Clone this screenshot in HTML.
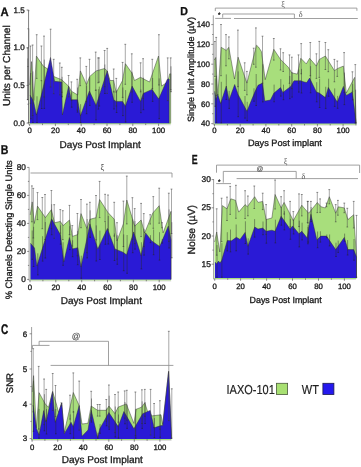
<!DOCTYPE html>
<html><head><meta charset="utf-8"><style>
html,body{margin:0;padding:0;background:#fff;width:361px;height:467px;overflow:hidden}
svg{display:block;will-change:transform}
text{font-family:"Liberation Sans",sans-serif;fill:#1a1a1a;text-rendering:geometricPrecision;stroke:#1a1a1a;stroke-width:0.32px}
.tk{font-size:7.8px}
.dp{font-size:10px}
.yl{font-size:9.3px}
.pl{font-size:11.5px;font-weight:bold;fill:#111;stroke:#111;stroke-width:0.3px}
.lg{font-size:11px;fill:#222;stroke-width:0.15px}
.gr{font-family:"Liberation Serif",serif;font-size:8.2px;fill:#555;stroke:none}
.at{font-size:6.6px;fill:#555;stroke:#555;stroke-width:0.15px}
.st{font-size:6.5px;fill:#222}
</style></head><body>
<svg width="361" height="467" viewBox="0 0 361 467">
<polygon points="29.7,124.3 29.7,85.0 31.5,61.6 33.8,100.6 36.4,56.1 43.3,66.1 48.1,69.3 53.7,76.5 61.7,79.7 68.5,86.1 71.2,91.0 77.7,95.0 80.4,70.9 86.5,84.5 89.7,76.5 96.1,70.9 104.5,68.5 107.2,70.9 110.0,80.5 113.7,80.5 116.1,92.6 122.5,80.5 125.4,63.7 132.1,73.3 134.5,80.5 140.5,77.3 149.5,82.0 158.5,56.0 161.6,86.0 167.7,82.0 169.7,73.8 170.7,73.8 170.7,124.3" fill="#a8de7c"/>
<polyline points="29.7,85.0 31.5,61.6 33.8,100.6 36.4,56.1 43.3,66.1 48.1,69.3 53.7,76.5 61.7,79.7 68.5,86.1 71.2,91.0 77.7,95.0 80.4,70.9 86.5,84.5 89.7,76.5 96.1,70.9 104.5,68.5 107.2,70.9 110.0,80.5 113.7,80.5 116.1,92.6 122.5,80.5 125.4,63.7 132.1,73.3 134.5,80.5 140.5,77.3 149.5,82.0 158.5,56.0 161.6,86.0 167.7,82.0 169.7,73.8 170.7,73.8 170.7,123.3" fill="none" stroke="#2a2a2a" stroke-width="0.45" stroke-linejoin="round"/>
<polygon points="30.0,123.2 30.0,95.0 33.6,101.4 36.4,115.0 50.5,57.5 54.5,81.3 61.7,82.1 62.4,115.0 68.6,86.2 71.2,99.8 77.7,99.8 80.4,115.9 89.4,91.0 96.1,105.4 107.2,70.9 113.7,99.8 116.1,101.4 122.5,101.4 125.4,106.2 132.1,86.1 140.5,101.4 143.2,93.4 152.1,89.4 158.7,99.0 167.3,79.3 169.2,79.0 169.2,123.2" fill="#2a1ad6"/>
<polyline points="30.0,95.0 33.6,101.4 36.4,115.0 50.5,57.5 54.5,81.3 61.7,82.1 62.4,115.0 68.6,86.2 71.2,99.8 77.7,99.8 80.4,115.9 89.4,91.0 96.1,105.4 107.2,70.9 113.7,99.8 116.1,101.4 122.5,101.4 125.4,106.2 132.1,86.1 140.5,101.4 143.2,93.4 152.1,89.4 158.7,99.0 167.3,79.3 169.2,79.0 169.2,123.3" fill="none" stroke="#2a2a2a" stroke-width="0.45" stroke-linejoin="round"/>
<line x1="28.5" y1="10.7" x2="28.5" y2="122.5" stroke="#484848" stroke-width="0.48"/>
<line x1="27.6" y1="10.7" x2="29.4" y2="10.7" stroke="#444" stroke-width="0.6"/>
<line x1="27.7" y1="122.5" x2="29.3" y2="122.5" stroke="#333" stroke-width="0.55"/>
<line x1="28.8" y1="28.5" x2="28.8" y2="122.5" stroke="#2a2a2a" stroke-width="0.45"/>
<line x1="28.0" y1="122.5" x2="29.6" y2="122.5" stroke="#222" stroke-width="0.55"/>
<line x1="27.6" y1="48.0" x2="27.6" y2="99.6" stroke="#484848" stroke-width="0.48"/>
<line x1="26.7" y1="48.0" x2="28.5" y2="48.0" stroke="#444" stroke-width="0.6"/>
<line x1="26.8" y1="99.6" x2="28.4" y2="99.6" stroke="#333" stroke-width="0.55"/>
<line x1="27.9" y1="58.4" x2="27.9" y2="99.6" stroke="#2a2a2a" stroke-width="0.45"/>
<line x1="27.1" y1="99.6" x2="28.7" y2="99.6" stroke="#222" stroke-width="0.55"/>
<line x1="30.5" y1="46.0" x2="30.5" y2="103.2" stroke="#484848" stroke-width="0.48"/>
<line x1="29.6" y1="46.0" x2="31.4" y2="46.0" stroke="#444" stroke-width="0.6"/>
<line x1="29.7" y1="103.2" x2="31.3" y2="103.2" stroke="#333" stroke-width="0.55"/>
<line x1="30.8" y1="73.0" x2="30.8" y2="118.8" stroke="#2a2a2a" stroke-width="0.45"/>
<line x1="30.0" y1="118.8" x2="31.6" y2="118.8" stroke="#222" stroke-width="0.55"/>
<line x1="32.6" y1="45.0" x2="32.6" y2="115.5" stroke="#484848" stroke-width="0.48"/>
<line x1="31.7" y1="45.0" x2="33.5" y2="45.0" stroke="#444" stroke-width="0.6"/>
<line x1="31.8" y1="115.5" x2="33.4" y2="115.5" stroke="#333" stroke-width="0.55"/>
<line x1="32.9" y1="71.4" x2="32.9" y2="122.5" stroke="#2a2a2a" stroke-width="0.45"/>
<line x1="32.1" y1="122.5" x2="33.7" y2="122.5" stroke="#222" stroke-width="0.55"/>
<line x1="36.7" y1="34.7" x2="36.7" y2="78.4" stroke="#484848" stroke-width="0.48"/>
<line x1="35.8" y1="34.7" x2="37.6" y2="34.7" stroke="#444" stroke-width="0.6"/>
<line x1="35.9" y1="78.4" x2="37.5" y2="78.4" stroke="#333" stroke-width="0.55"/>
<line x1="37.0" y1="96.3" x2="37.0" y2="122.5" stroke="#2a2a2a" stroke-width="0.45"/>
<line x1="36.2" y1="122.5" x2="37.8" y2="122.5" stroke="#222" stroke-width="0.55"/>
<line x1="41.4" y1="46.0" x2="41.4" y2="80.7" stroke="#484848" stroke-width="0.48"/>
<line x1="40.5" y1="46.0" x2="42.3" y2="46.0" stroke="#444" stroke-width="0.6"/>
<line x1="40.6" y1="80.7" x2="42.2" y2="80.7" stroke="#333" stroke-width="0.55"/>
<line x1="41.7" y1="80.7" x2="41.7" y2="108.5" stroke="#2a2a2a" stroke-width="0.45"/>
<line x1="40.9" y1="108.5" x2="42.5" y2="108.5" stroke="#222" stroke-width="0.55"/>
<line x1="44.0" y1="36.1" x2="44.0" y2="97.0" stroke="#484848" stroke-width="0.48"/>
<line x1="43.1" y1="36.1" x2="44.9" y2="36.1" stroke="#444" stroke-width="0.6"/>
<line x1="43.2" y1="97.0" x2="44.8" y2="97.0" stroke="#333" stroke-width="0.55"/>
<line x1="44.3" y1="59.6" x2="44.3" y2="108.4" stroke="#2a2a2a" stroke-width="0.45"/>
<line x1="43.5" y1="108.4" x2="45.1" y2="108.4" stroke="#222" stroke-width="0.55"/>
<line x1="50.6" y1="29.2" x2="50.6" y2="87.0" stroke="#484848" stroke-width="0.48"/>
<line x1="49.7" y1="29.2" x2="51.5" y2="29.2" stroke="#444" stroke-width="0.6"/>
<line x1="49.8" y1="87.0" x2="51.4" y2="87.0" stroke="#333" stroke-width="0.55"/>
<line x1="53.7" y1="59.3" x2="53.7" y2="93.7" stroke="#484848" stroke-width="0.48"/>
<line x1="52.8" y1="59.3" x2="54.6" y2="59.3" stroke="#444" stroke-width="0.6"/>
<line x1="52.9" y1="93.7" x2="54.5" y2="93.7" stroke="#333" stroke-width="0.55"/>
<line x1="59.8" y1="63.0" x2="59.8" y2="94.9" stroke="#484848" stroke-width="0.48"/>
<line x1="58.9" y1="63.0" x2="60.7" y2="63.0" stroke="#444" stroke-width="0.6"/>
<line x1="59.0" y1="94.9" x2="60.6" y2="94.9" stroke="#333" stroke-width="0.55"/>
<line x1="61.8" y1="67.3" x2="61.8" y2="92.3" stroke="#484848" stroke-width="0.48"/>
<line x1="60.9" y1="67.3" x2="62.7" y2="67.3" stroke="#444" stroke-width="0.6"/>
<line x1="61.0" y1="92.3" x2="62.6" y2="92.3" stroke="#333" stroke-width="0.55"/>
<line x1="62.1" y1="76.8" x2="62.1" y2="96.8" stroke="#2a2a2a" stroke-width="0.45"/>
<line x1="61.3" y1="96.8" x2="62.9" y2="96.8" stroke="#222" stroke-width="0.55"/>
<line x1="68.6" y1="75.5" x2="68.6" y2="96.9" stroke="#484848" stroke-width="0.48"/>
<line x1="67.7" y1="75.5" x2="69.5" y2="75.5" stroke="#444" stroke-width="0.6"/>
<line x1="67.8" y1="96.9" x2="69.4" y2="96.9" stroke="#333" stroke-width="0.55"/>
<line x1="71.4" y1="81.9" x2="71.4" y2="100.3" stroke="#484848" stroke-width="0.48"/>
<line x1="70.5" y1="81.9" x2="72.3" y2="81.9" stroke="#444" stroke-width="0.6"/>
<line x1="70.6" y1="100.3" x2="72.2" y2="100.3" stroke="#333" stroke-width="0.55"/>
<line x1="71.7" y1="92.4" x2="71.7" y2="107.2" stroke="#2a2a2a" stroke-width="0.45"/>
<line x1="70.9" y1="107.2" x2="72.5" y2="107.2" stroke="#222" stroke-width="0.55"/>
<line x1="77.2" y1="79.3" x2="77.2" y2="110.1" stroke="#484848" stroke-width="0.48"/>
<line x1="76.3" y1="79.3" x2="78.1" y2="79.3" stroke="#444" stroke-width="0.6"/>
<line x1="76.4" y1="110.1" x2="78.0" y2="110.1" stroke="#333" stroke-width="0.55"/>
<line x1="77.5" y1="87.5" x2="77.5" y2="112.1" stroke="#2a2a2a" stroke-width="0.45"/>
<line x1="76.7" y1="112.1" x2="78.3" y2="112.1" stroke="#222" stroke-width="0.55"/>
<line x1="86.3" y1="66.4" x2="86.3" y2="101.7" stroke="#484848" stroke-width="0.48"/>
<line x1="85.4" y1="66.4" x2="87.2" y2="66.4" stroke="#444" stroke-width="0.6"/>
<line x1="85.5" y1="101.7" x2="87.1" y2="101.7" stroke="#333" stroke-width="0.55"/>
<line x1="86.6" y1="85.5" x2="86.6" y2="113.7" stroke="#2a2a2a" stroke-width="0.45"/>
<line x1="85.8" y1="113.7" x2="87.4" y2="113.7" stroke="#222" stroke-width="0.55"/>
<line x1="80.3" y1="57.9" x2="80.3" y2="85.7" stroke="#484848" stroke-width="0.48"/>
<line x1="79.4" y1="57.9" x2="81.2" y2="57.9" stroke="#444" stroke-width="0.6"/>
<line x1="79.5" y1="85.7" x2="81.1" y2="85.7" stroke="#333" stroke-width="0.55"/>
<line x1="80.6" y1="104.2" x2="80.6" y2="122.5" stroke="#2a2a2a" stroke-width="0.45"/>
<line x1="79.8" y1="122.5" x2="81.4" y2="122.5" stroke="#222" stroke-width="0.55"/>
<line x1="89.5" y1="59.3" x2="89.5" y2="94.7" stroke="#484848" stroke-width="0.48"/>
<line x1="88.6" y1="59.3" x2="90.4" y2="59.3" stroke="#444" stroke-width="0.6"/>
<line x1="88.7" y1="94.7" x2="90.3" y2="94.7" stroke="#333" stroke-width="0.55"/>
<line x1="89.8" y1="77.1" x2="89.8" y2="105.4" stroke="#2a2a2a" stroke-width="0.45"/>
<line x1="89.0" y1="105.4" x2="90.6" y2="105.4" stroke="#222" stroke-width="0.55"/>
<line x1="95.7" y1="52.1" x2="95.7" y2="90.4" stroke="#484848" stroke-width="0.48"/>
<line x1="94.8" y1="52.1" x2="96.6" y2="52.1" stroke="#444" stroke-width="0.6"/>
<line x1="94.9" y1="90.4" x2="96.5" y2="90.4" stroke="#333" stroke-width="0.55"/>
<line x1="96.0" y1="89.2" x2="96.0" y2="119.9" stroke="#2a2a2a" stroke-width="0.45"/>
<line x1="95.2" y1="119.9" x2="96.8" y2="119.9" stroke="#222" stroke-width="0.55"/>
<line x1="98.1" y1="57.9" x2="98.1" y2="82.8" stroke="#484848" stroke-width="0.48"/>
<line x1="97.2" y1="57.9" x2="99.0" y2="57.9" stroke="#444" stroke-width="0.6"/>
<line x1="97.3" y1="82.8" x2="98.9" y2="82.8" stroke="#333" stroke-width="0.55"/>
<line x1="98.4" y1="89.2" x2="98.4" y2="109.1" stroke="#2a2a2a" stroke-width="0.45"/>
<line x1="97.6" y1="109.1" x2="99.2" y2="109.1" stroke="#222" stroke-width="0.55"/>
<line x1="99.0" y1="57.9" x2="99.0" y2="82.2" stroke="#484848" stroke-width="0.48"/>
<line x1="98.1" y1="57.9" x2="99.9" y2="57.9" stroke="#444" stroke-width="0.6"/>
<line x1="98.2" y1="82.2" x2="99.8" y2="82.2" stroke="#333" stroke-width="0.55"/>
<line x1="99.3" y1="86.6" x2="99.3" y2="106.1" stroke="#2a2a2a" stroke-width="0.45"/>
<line x1="98.5" y1="106.1" x2="100.1" y2="106.1" stroke="#222" stroke-width="0.55"/>
<line x1="104.6" y1="50.5" x2="104.6" y2="86.7" stroke="#484848" stroke-width="0.48"/>
<line x1="103.7" y1="50.5" x2="105.5" y2="50.5" stroke="#444" stroke-width="0.6"/>
<line x1="103.8" y1="86.7" x2="105.4" y2="86.7" stroke="#333" stroke-width="0.55"/>
<line x1="104.9" y1="64.5" x2="104.9" y2="93.5" stroke="#2a2a2a" stroke-width="0.45"/>
<line x1="104.1" y1="93.5" x2="105.7" y2="93.5" stroke="#222" stroke-width="0.55"/>
<line x1="107.2" y1="48.4" x2="107.2" y2="93.4" stroke="#484848" stroke-width="0.48"/>
<line x1="106.3" y1="48.4" x2="108.1" y2="48.4" stroke="#444" stroke-width="0.6"/>
<line x1="106.4" y1="93.4" x2="108.0" y2="93.4" stroke="#333" stroke-width="0.55"/>
<line x1="113.7" y1="69.0" x2="113.7" y2="92.0" stroke="#484848" stroke-width="0.48"/>
<line x1="112.8" y1="69.0" x2="114.6" y2="69.0" stroke="#444" stroke-width="0.6"/>
<line x1="112.9" y1="92.0" x2="114.5" y2="92.0" stroke="#333" stroke-width="0.55"/>
<line x1="114.0" y1="90.6" x2="114.0" y2="109.0" stroke="#2a2a2a" stroke-width="0.45"/>
<line x1="113.2" y1="109.0" x2="114.8" y2="109.0" stroke="#222" stroke-width="0.55"/>
<line x1="116.3" y1="78.4" x2="116.3" y2="106.0" stroke="#484848" stroke-width="0.48"/>
<line x1="115.4" y1="78.4" x2="117.2" y2="78.4" stroke="#444" stroke-width="0.6"/>
<line x1="115.5" y1="106.0" x2="117.1" y2="106.0" stroke="#333" stroke-width="0.55"/>
<line x1="116.6" y1="90.3" x2="116.6" y2="112.5" stroke="#2a2a2a" stroke-width="0.45"/>
<line x1="115.8" y1="112.5" x2="117.4" y2="112.5" stroke="#222" stroke-width="0.55"/>
<line x1="122.6" y1="62.4" x2="122.6" y2="97.4" stroke="#484848" stroke-width="0.48"/>
<line x1="121.7" y1="62.4" x2="123.5" y2="62.4" stroke="#444" stroke-width="0.6"/>
<line x1="121.8" y1="97.4" x2="123.4" y2="97.4" stroke="#333" stroke-width="0.55"/>
<line x1="122.9" y1="87.5" x2="122.9" y2="115.6" stroke="#2a2a2a" stroke-width="0.45"/>
<line x1="122.1" y1="115.6" x2="123.7" y2="115.6" stroke="#222" stroke-width="0.55"/>
<line x1="125.3" y1="44.3" x2="125.3" y2="84.3" stroke="#484848" stroke-width="0.48"/>
<line x1="124.4" y1="44.3" x2="126.2" y2="44.3" stroke="#444" stroke-width="0.6"/>
<line x1="124.5" y1="84.3" x2="126.1" y2="84.3" stroke="#333" stroke-width="0.55"/>
<line x1="125.6" y1="90.1" x2="125.6" y2="122.0" stroke="#2a2a2a" stroke-width="0.45"/>
<line x1="124.8" y1="122.0" x2="126.4" y2="122.0" stroke="#222" stroke-width="0.55"/>
<line x1="131.8" y1="53.8" x2="131.8" y2="91.9" stroke="#484848" stroke-width="0.48"/>
<line x1="130.9" y1="53.8" x2="132.7" y2="53.8" stroke="#444" stroke-width="0.6"/>
<line x1="131.0" y1="91.9" x2="132.6" y2="91.9" stroke="#333" stroke-width="0.55"/>
<line x1="132.1" y1="71.7" x2="132.1" y2="102.3" stroke="#2a2a2a" stroke-width="0.45"/>
<line x1="131.3" y1="102.3" x2="132.9" y2="102.3" stroke="#222" stroke-width="0.55"/>
<line x1="140.6" y1="62.8" x2="140.6" y2="91.9" stroke="#484848" stroke-width="0.48"/>
<line x1="139.7" y1="62.8" x2="141.5" y2="62.8" stroke="#444" stroke-width="0.6"/>
<line x1="139.8" y1="91.9" x2="141.4" y2="91.9" stroke="#333" stroke-width="0.55"/>
<line x1="140.9" y1="89.5" x2="140.9" y2="112.7" stroke="#2a2a2a" stroke-width="0.45"/>
<line x1="140.1" y1="112.7" x2="141.7" y2="112.7" stroke="#222" stroke-width="0.55"/>
<line x1="143.1" y1="58.7" x2="143.1" y2="98.6" stroke="#484848" stroke-width="0.48"/>
<line x1="142.2" y1="58.7" x2="144.0" y2="58.7" stroke="#444" stroke-width="0.6"/>
<line x1="142.3" y1="98.6" x2="143.9" y2="98.6" stroke="#333" stroke-width="0.55"/>
<line x1="143.4" y1="77.7" x2="143.4" y2="109.7" stroke="#2a2a2a" stroke-width="0.45"/>
<line x1="142.6" y1="109.7" x2="144.2" y2="109.7" stroke="#222" stroke-width="0.55"/>
<line x1="152.3" y1="59.3" x2="152.3" y2="88.5" stroke="#484848" stroke-width="0.48"/>
<line x1="151.4" y1="59.3" x2="153.2" y2="59.3" stroke="#444" stroke-width="0.6"/>
<line x1="151.5" y1="88.5" x2="153.1" y2="88.5" stroke="#333" stroke-width="0.55"/>
<line x1="152.6" y1="78.0" x2="152.6" y2="101.4" stroke="#2a2a2a" stroke-width="0.45"/>
<line x1="151.8" y1="101.4" x2="153.4" y2="101.4" stroke="#222" stroke-width="0.55"/>
<line x1="158.9" y1="34.7" x2="158.9" y2="85.0" stroke="#484848" stroke-width="0.48"/>
<line x1="158.0" y1="34.7" x2="159.8" y2="34.7" stroke="#444" stroke-width="0.6"/>
<line x1="158.1" y1="85.0" x2="159.7" y2="85.0" stroke="#333" stroke-width="0.55"/>
<line x1="159.2" y1="78.4" x2="159.2" y2="118.7" stroke="#2a2a2a" stroke-width="0.45"/>
<line x1="158.4" y1="118.7" x2="160.0" y2="118.7" stroke="#222" stroke-width="0.55"/>
<line x1="167.7" y1="57.9" x2="167.7" y2="100.6" stroke="#484848" stroke-width="0.48"/>
<line x1="166.8" y1="57.9" x2="168.6" y2="57.9" stroke="#444" stroke-width="0.6"/>
<line x1="166.9" y1="100.6" x2="168.5" y2="100.6" stroke="#333" stroke-width="0.55"/>
<line x1="170.7" y1="57.9" x2="170.7" y2="89.7" stroke="#484848" stroke-width="0.48"/>
<line x1="169.8" y1="57.9" x2="171.6" y2="57.9" stroke="#444" stroke-width="0.6"/>
<line x1="169.9" y1="89.7" x2="171.5" y2="89.7" stroke="#333" stroke-width="0.55"/>
<line x1="171.0" y1="66.3" x2="171.0" y2="91.7" stroke="#2a2a2a" stroke-width="0.45"/>
<line x1="170.2" y1="91.7" x2="171.8" y2="91.7" stroke="#222" stroke-width="0.55"/>
<line x1="28.6" y1="9.9" x2="28.6" y2="124.5" stroke="#777" stroke-width="0.7"/>
<line x1="28.6" y1="124.8" x2="170.8" y2="124.8" stroke="#bbb" stroke-width="0.5"/>
<line x1="29.6" y1="123.6" x2="29.6" y2="126.1" stroke="#444" stroke-width="0.6"/>
<text x="29.6" y="132.9" class="tk" text-anchor="middle">0</text>
<line x1="42.5" y1="123.6" x2="42.5" y2="125.1" stroke="#444" stroke-width="0.6"/>
<line x1="55.4" y1="123.6" x2="55.4" y2="126.1" stroke="#444" stroke-width="0.6"/>
<text x="55.4" y="132.9" class="tk" text-anchor="middle">20</text>
<line x1="68.3" y1="123.6" x2="68.3" y2="125.1" stroke="#444" stroke-width="0.6"/>
<line x1="81.2" y1="123.6" x2="81.2" y2="126.1" stroke="#444" stroke-width="0.6"/>
<text x="81.2" y="132.9" class="tk" text-anchor="middle">40</text>
<line x1="94.1" y1="123.6" x2="94.1" y2="125.1" stroke="#444" stroke-width="0.6"/>
<line x1="107.0" y1="123.6" x2="107.0" y2="126.1" stroke="#444" stroke-width="0.6"/>
<text x="107.0" y="132.9" class="tk" text-anchor="middle">60</text>
<line x1="119.9" y1="123.6" x2="119.9" y2="125.1" stroke="#444" stroke-width="0.6"/>
<line x1="132.8" y1="123.6" x2="132.8" y2="126.1" stroke="#444" stroke-width="0.6"/>
<text x="132.8" y="132.9" class="tk" text-anchor="middle">80</text>
<line x1="145.7" y1="123.6" x2="145.7" y2="125.1" stroke="#444" stroke-width="0.6"/>
<line x1="158.6" y1="123.6" x2="158.6" y2="126.1" stroke="#444" stroke-width="0.6"/>
<text x="158.6" y="132.9" class="tk" text-anchor="middle">100</text>
<line x1="28.6" y1="10.0" x2="26.6" y2="10.0" stroke="#444" stroke-width="0.6"/>
<text x="24.6" y="12.7" class="tk" style="font-size:8px" text-anchor="end">1.5</text>
<line x1="28.6" y1="47.7" x2="26.6" y2="47.7" stroke="#444" stroke-width="0.6"/>
<text x="24.6" y="50.4" class="tk" style="font-size:8px" text-anchor="end">1.0</text>
<line x1="28.6" y1="85.4" x2="26.6" y2="85.4" stroke="#444" stroke-width="0.6"/>
<text x="24.6" y="88.1" class="tk" style="font-size:8px" text-anchor="end">0.5</text>
<line x1="28.6" y1="123.1" x2="26.6" y2="123.1" stroke="#444" stroke-width="0.6"/>
<text x="24.6" y="125.8" class="tk" style="font-size:8px" text-anchor="end">0.0</text>
<line x1="28.6" y1="28.8" x2="27.4" y2="28.8" stroke="#444" stroke-width="0.6"/>
<line x1="28.6" y1="66.5" x2="27.4" y2="66.5" stroke="#444" stroke-width="0.6"/>
<line x1="28.6" y1="104.2" x2="27.4" y2="104.2" stroke="#444" stroke-width="0.6"/>
<polygon points="30.2,280.5 30.2,215.0 32.2,201.9 34.3,223.5 37.5,206.1 45.4,217.6 51.4,209.6 54.5,222.8 60.3,221.4 63.1,225.6 69.5,220.0 72.4,236.4 77.8,234.5 81.0,213.6 86.9,228.4 89.9,219.3 96.0,217.7 99.6,199.5 108.0,212.5 114.3,219.3 117.0,240.9 123.4,223.8 126.8,200.0 134.7,226.1 141.1,220.0 144.6,233.0 152.8,213.0 159.2,205.7 163.1,232.9 171.0,211.3 171.0,280.5" fill="#a8de7c"/>
<polyline points="30.2,215.0 32.2,201.9 34.3,223.5 37.5,206.1 45.4,217.6 51.4,209.6 54.5,222.8 60.3,221.4 63.1,225.6 69.5,220.0 72.4,236.4 77.8,234.5 81.0,213.6 86.9,228.4 89.9,219.3 96.0,217.7 99.6,199.5 108.0,212.5 114.3,219.3 117.0,240.9 123.4,223.8 126.8,200.0 134.7,226.1 141.1,220.0 144.6,233.0 152.8,213.0 159.2,205.7 163.1,232.9 171.0,211.3 171.0,279.5" fill="none" stroke="#2a2a2a" stroke-width="0.45" stroke-linejoin="round"/>
<polygon points="30.5,279.4 30.5,243.2 34.5,248.1 36.9,266.0 51.6,218.8 60.5,235.1 63.8,261.9 69.4,237.5 72.4,248.9 77.8,247.7 81.0,267.0 89.9,223.9 97.8,248.9 107.4,228.4 114.9,248.9 122.9,252.2 126.6,254.8 133.7,231.9 141.1,255.6 145.6,232.9 151.7,240.9 159.7,246.5 168.3,226.1 171.0,240.0 171.0,279.4" fill="#2a1ad6"/>
<polyline points="30.5,243.2 34.5,248.1 36.9,266.0 51.6,218.8 60.5,235.1 63.8,261.9 69.4,237.5 72.4,248.9 77.8,247.7 81.0,267.0 89.9,223.9 97.8,248.9 107.4,228.4 114.9,248.9 122.9,252.2 126.6,254.8 133.7,231.9 141.1,255.6 145.6,232.9 151.7,240.9 159.7,246.5 168.3,226.1 171.0,240.0 171.0,279.5" fill="none" stroke="#2a2a2a" stroke-width="0.45" stroke-linejoin="round"/>
<line x1="31.9" y1="185.9" x2="31.9" y2="221.8" stroke="#484848" stroke-width="0.48"/>
<line x1="31.0" y1="185.9" x2="32.8" y2="185.9" stroke="#444" stroke-width="0.6"/>
<line x1="31.1" y1="221.8" x2="32.7" y2="221.8" stroke="#333" stroke-width="0.55"/>
<line x1="32.2" y1="230.5" x2="32.2" y2="259.3" stroke="#2a2a2a" stroke-width="0.45"/>
<line x1="31.4" y1="259.3" x2="33.0" y2="259.3" stroke="#222" stroke-width="0.55"/>
<line x1="33.3" y1="188.4" x2="33.3" y2="238.0" stroke="#484848" stroke-width="0.48"/>
<line x1="32.4" y1="188.4" x2="34.2" y2="188.4" stroke="#444" stroke-width="0.6"/>
<line x1="32.5" y1="238.0" x2="34.1" y2="238.0" stroke="#333" stroke-width="0.55"/>
<line x1="33.6" y1="226.8" x2="33.6" y2="266.5" stroke="#2a2a2a" stroke-width="0.45"/>
<line x1="32.8" y1="266.5" x2="34.4" y2="266.5" stroke="#222" stroke-width="0.55"/>
<line x1="37.5" y1="192.6" x2="37.5" y2="219.6" stroke="#484848" stroke-width="0.48"/>
<line x1="36.6" y1="192.6" x2="38.4" y2="192.6" stroke="#444" stroke-width="0.6"/>
<line x1="36.7" y1="219.6" x2="38.3" y2="219.6" stroke="#333" stroke-width="0.55"/>
<line x1="37.8" y1="253.3" x2="37.8" y2="274.9" stroke="#2a2a2a" stroke-width="0.45"/>
<line x1="37.0" y1="274.9" x2="38.6" y2="274.9" stroke="#222" stroke-width="0.55"/>
<line x1="42.3" y1="197.5" x2="42.3" y2="228.7" stroke="#484848" stroke-width="0.48"/>
<line x1="41.4" y1="197.5" x2="43.2" y2="197.5" stroke="#444" stroke-width="0.6"/>
<line x1="41.5" y1="228.7" x2="43.1" y2="228.7" stroke="#333" stroke-width="0.55"/>
<line x1="42.6" y1="236.2" x2="42.6" y2="261.1" stroke="#2a2a2a" stroke-width="0.45"/>
<line x1="41.8" y1="261.1" x2="43.4" y2="261.1" stroke="#222" stroke-width="0.55"/>
<line x1="45.0" y1="194.5" x2="45.0" y2="239.5" stroke="#484848" stroke-width="0.48"/>
<line x1="44.1" y1="194.5" x2="45.9" y2="194.5" stroke="#444" stroke-width="0.6"/>
<line x1="44.2" y1="239.5" x2="45.8" y2="239.5" stroke="#333" stroke-width="0.55"/>
<line x1="45.3" y1="222.0" x2="45.3" y2="258.0" stroke="#2a2a2a" stroke-width="0.45"/>
<line x1="44.5" y1="258.0" x2="46.1" y2="258.0" stroke="#222" stroke-width="0.55"/>
<line x1="51.4" y1="190.5" x2="51.4" y2="228.7" stroke="#484848" stroke-width="0.48"/>
<line x1="50.5" y1="190.5" x2="52.3" y2="190.5" stroke="#444" stroke-width="0.6"/>
<line x1="50.6" y1="228.7" x2="52.2" y2="228.7" stroke="#333" stroke-width="0.55"/>
<line x1="51.7" y1="204.2" x2="51.7" y2="234.7" stroke="#2a2a2a" stroke-width="0.45"/>
<line x1="50.9" y1="234.7" x2="52.5" y2="234.7" stroke="#222" stroke-width="0.55"/>
<line x1="54.2" y1="204.7" x2="54.2" y2="238.3" stroke="#484848" stroke-width="0.48"/>
<line x1="53.3" y1="204.7" x2="55.1" y2="204.7" stroke="#444" stroke-width="0.6"/>
<line x1="53.4" y1="238.3" x2="55.0" y2="238.3" stroke="#333" stroke-width="0.55"/>
<line x1="60.3" y1="209.6" x2="60.3" y2="233.2" stroke="#484848" stroke-width="0.48"/>
<line x1="59.4" y1="209.6" x2="61.2" y2="209.6" stroke="#444" stroke-width="0.6"/>
<line x1="59.5" y1="233.2" x2="61.1" y2="233.2" stroke="#333" stroke-width="0.55"/>
<line x1="60.6" y1="225.3" x2="60.6" y2="244.2" stroke="#2a2a2a" stroke-width="0.45"/>
<line x1="59.8" y1="244.2" x2="61.4" y2="244.2" stroke="#222" stroke-width="0.55"/>
<line x1="62.8" y1="210.7" x2="62.8" y2="239.6" stroke="#484848" stroke-width="0.48"/>
<line x1="61.9" y1="210.7" x2="63.7" y2="210.7" stroke="#444" stroke-width="0.6"/>
<line x1="62.0" y1="239.6" x2="63.6" y2="239.6" stroke="#333" stroke-width="0.55"/>
<line x1="63.1" y1="242.2" x2="63.1" y2="265.3" stroke="#2a2a2a" stroke-width="0.45"/>
<line x1="62.3" y1="265.3" x2="63.9" y2="265.3" stroke="#222" stroke-width="0.55"/>
<line x1="69.5" y1="205.4" x2="69.5" y2="234.6" stroke="#484848" stroke-width="0.48"/>
<line x1="68.6" y1="205.4" x2="70.4" y2="205.4" stroke="#444" stroke-width="0.6"/>
<line x1="68.7" y1="234.6" x2="70.3" y2="234.6" stroke="#333" stroke-width="0.55"/>
<line x1="69.8" y1="226.2" x2="69.8" y2="249.6" stroke="#2a2a2a" stroke-width="0.45"/>
<line x1="69.0" y1="249.6" x2="70.6" y2="249.6" stroke="#222" stroke-width="0.55"/>
<line x1="72.3" y1="225.6" x2="72.3" y2="246.1" stroke="#484848" stroke-width="0.48"/>
<line x1="71.4" y1="225.6" x2="73.2" y2="225.6" stroke="#444" stroke-width="0.6"/>
<line x1="71.5" y1="246.1" x2="73.1" y2="246.1" stroke="#333" stroke-width="0.55"/>
<line x1="72.6" y1="240.3" x2="72.6" y2="256.7" stroke="#2a2a2a" stroke-width="0.45"/>
<line x1="71.8" y1="256.7" x2="73.4" y2="256.7" stroke="#222" stroke-width="0.55"/>
<line x1="77.4" y1="213.5" x2="77.4" y2="255.8" stroke="#484848" stroke-width="0.48"/>
<line x1="76.5" y1="213.5" x2="78.3" y2="213.5" stroke="#444" stroke-width="0.6"/>
<line x1="76.6" y1="255.8" x2="78.2" y2="255.8" stroke="#333" stroke-width="0.55"/>
<line x1="77.7" y1="230.9" x2="77.7" y2="264.7" stroke="#2a2a2a" stroke-width="0.45"/>
<line x1="76.9" y1="264.7" x2="78.5" y2="264.7" stroke="#222" stroke-width="0.55"/>
<line x1="81.0" y1="199.5" x2="81.0" y2="227.7" stroke="#484848" stroke-width="0.48"/>
<line x1="80.1" y1="199.5" x2="81.9" y2="199.5" stroke="#444" stroke-width="0.6"/>
<line x1="80.2" y1="227.7" x2="81.8" y2="227.7" stroke="#333" stroke-width="0.55"/>
<line x1="81.3" y1="255.7" x2="81.3" y2="278.3" stroke="#2a2a2a" stroke-width="0.45"/>
<line x1="80.5" y1="278.3" x2="82.1" y2="278.3" stroke="#222" stroke-width="0.55"/>
<line x1="86.9" y1="204.1" x2="86.9" y2="252.7" stroke="#484848" stroke-width="0.48"/>
<line x1="86.0" y1="204.1" x2="87.8" y2="204.1" stroke="#444" stroke-width="0.6"/>
<line x1="86.1" y1="252.7" x2="87.7" y2="252.7" stroke="#333" stroke-width="0.55"/>
<line x1="87.2" y1="219.0" x2="87.2" y2="257.9" stroke="#2a2a2a" stroke-width="0.45"/>
<line x1="86.4" y1="257.9" x2="88.0" y2="257.9" stroke="#222" stroke-width="0.55"/>
<line x1="89.9" y1="202.3" x2="89.9" y2="236.3" stroke="#484848" stroke-width="0.48"/>
<line x1="89.0" y1="202.3" x2="90.8" y2="202.3" stroke="#444" stroke-width="0.6"/>
<line x1="89.1" y1="236.3" x2="90.7" y2="236.3" stroke="#333" stroke-width="0.55"/>
<line x1="90.2" y1="210.3" x2="90.2" y2="237.5" stroke="#2a2a2a" stroke-width="0.45"/>
<line x1="89.4" y1="237.5" x2="91.0" y2="237.5" stroke="#222" stroke-width="0.55"/>
<line x1="96.0" y1="195.5" x2="96.0" y2="239.9" stroke="#484848" stroke-width="0.48"/>
<line x1="95.1" y1="195.5" x2="96.9" y2="195.5" stroke="#444" stroke-width="0.6"/>
<line x1="95.2" y1="239.9" x2="96.8" y2="239.9" stroke="#333" stroke-width="0.55"/>
<line x1="96.3" y1="225.4" x2="96.3" y2="261.0" stroke="#2a2a2a" stroke-width="0.45"/>
<line x1="95.5" y1="261.0" x2="97.1" y2="261.0" stroke="#222" stroke-width="0.55"/>
<line x1="99.6" y1="181.4" x2="99.6" y2="217.6" stroke="#484848" stroke-width="0.48"/>
<line x1="98.7" y1="181.4" x2="100.5" y2="181.4" stroke="#444" stroke-width="0.6"/>
<line x1="98.8" y1="217.6" x2="100.4" y2="217.6" stroke="#333" stroke-width="0.55"/>
<line x1="99.9" y1="230.6" x2="99.9" y2="259.5" stroke="#2a2a2a" stroke-width="0.45"/>
<line x1="99.1" y1="259.5" x2="100.7" y2="259.5" stroke="#222" stroke-width="0.55"/>
<line x1="105.1" y1="194.3" x2="105.1" y2="221.7" stroke="#484848" stroke-width="0.48"/>
<line x1="104.2" y1="194.3" x2="106.0" y2="194.3" stroke="#444" stroke-width="0.6"/>
<line x1="104.3" y1="221.7" x2="105.9" y2="221.7" stroke="#333" stroke-width="0.55"/>
<line x1="105.4" y1="222.3" x2="105.4" y2="244.3" stroke="#2a2a2a" stroke-width="0.45"/>
<line x1="104.6" y1="244.3" x2="106.2" y2="244.3" stroke="#222" stroke-width="0.55"/>
<line x1="108.0" y1="195.0" x2="108.0" y2="230.0" stroke="#484848" stroke-width="0.48"/>
<line x1="107.1" y1="195.0" x2="108.9" y2="195.0" stroke="#444" stroke-width="0.6"/>
<line x1="107.2" y1="230.0" x2="108.8" y2="230.0" stroke="#333" stroke-width="0.55"/>
<line x1="108.3" y1="216.0" x2="108.3" y2="244.0" stroke="#2a2a2a" stroke-width="0.45"/>
<line x1="107.5" y1="244.0" x2="109.1" y2="244.0" stroke="#222" stroke-width="0.55"/>
<line x1="114.2" y1="202.3" x2="114.2" y2="236.1" stroke="#484848" stroke-width="0.48"/>
<line x1="113.3" y1="202.3" x2="115.1" y2="202.3" stroke="#444" stroke-width="0.6"/>
<line x1="113.4" y1="236.1" x2="115.0" y2="236.1" stroke="#333" stroke-width="0.55"/>
<line x1="114.5" y1="233.5" x2="114.5" y2="260.5" stroke="#2a2a2a" stroke-width="0.45"/>
<line x1="113.7" y1="260.5" x2="115.3" y2="260.5" stroke="#222" stroke-width="0.55"/>
<line x1="117.0" y1="222.7" x2="117.0" y2="259.1" stroke="#484848" stroke-width="0.48"/>
<line x1="116.1" y1="222.7" x2="117.9" y2="222.7" stroke="#444" stroke-width="0.6"/>
<line x1="116.2" y1="259.1" x2="117.8" y2="259.1" stroke="#333" stroke-width="0.55"/>
<line x1="117.3" y1="235.2" x2="117.3" y2="264.3" stroke="#2a2a2a" stroke-width="0.45"/>
<line x1="116.5" y1="264.3" x2="118.1" y2="264.3" stroke="#222" stroke-width="0.55"/>
<line x1="123.4" y1="201.1" x2="123.4" y2="246.5" stroke="#484848" stroke-width="0.48"/>
<line x1="122.5" y1="201.1" x2="124.3" y2="201.1" stroke="#444" stroke-width="0.6"/>
<line x1="122.6" y1="246.5" x2="124.2" y2="246.5" stroke="#333" stroke-width="0.55"/>
<line x1="123.7" y1="234.4" x2="123.7" y2="270.7" stroke="#2a2a2a" stroke-width="0.45"/>
<line x1="122.9" y1="270.7" x2="124.5" y2="270.7" stroke="#222" stroke-width="0.55"/>
<line x1="126.8" y1="176.1" x2="126.8" y2="223.9" stroke="#484848" stroke-width="0.48"/>
<line x1="125.9" y1="176.1" x2="127.7" y2="176.1" stroke="#444" stroke-width="0.6"/>
<line x1="126.0" y1="223.9" x2="127.6" y2="223.9" stroke="#333" stroke-width="0.55"/>
<line x1="127.1" y1="235.0" x2="127.1" y2="273.3" stroke="#2a2a2a" stroke-width="0.45"/>
<line x1="126.3" y1="273.3" x2="127.9" y2="273.3" stroke="#222" stroke-width="0.55"/>
<line x1="132.4" y1="197.7" x2="132.4" y2="239.3" stroke="#484848" stroke-width="0.48"/>
<line x1="131.5" y1="197.7" x2="133.3" y2="197.7" stroke="#444" stroke-width="0.6"/>
<line x1="131.6" y1="239.3" x2="133.2" y2="239.3" stroke="#333" stroke-width="0.55"/>
<line x1="132.7" y1="219.5" x2="132.7" y2="252.7" stroke="#2a2a2a" stroke-width="0.45"/>
<line x1="131.9" y1="252.7" x2="133.5" y2="252.7" stroke="#222" stroke-width="0.55"/>
<line x1="134.7" y1="208.6" x2="134.7" y2="243.6" stroke="#484848" stroke-width="0.48"/>
<line x1="133.8" y1="208.6" x2="135.6" y2="208.6" stroke="#444" stroke-width="0.6"/>
<line x1="133.9" y1="243.6" x2="135.5" y2="243.6" stroke="#333" stroke-width="0.55"/>
<line x1="135.0" y1="221.1" x2="135.0" y2="249.1" stroke="#2a2a2a" stroke-width="0.45"/>
<line x1="134.2" y1="249.1" x2="135.8" y2="249.1" stroke="#222" stroke-width="0.55"/>
<line x1="141.1" y1="203.4" x2="141.1" y2="236.6" stroke="#484848" stroke-width="0.48"/>
<line x1="140.2" y1="203.4" x2="142.0" y2="203.4" stroke="#444" stroke-width="0.6"/>
<line x1="140.3" y1="236.6" x2="141.9" y2="236.6" stroke="#333" stroke-width="0.55"/>
<line x1="141.4" y1="242.3" x2="141.4" y2="268.9" stroke="#2a2a2a" stroke-width="0.45"/>
<line x1="140.6" y1="268.9" x2="142.2" y2="268.9" stroke="#222" stroke-width="0.55"/>
<line x1="143.8" y1="213.6" x2="143.8" y2="246.5" stroke="#484848" stroke-width="0.48"/>
<line x1="142.9" y1="213.6" x2="144.7" y2="213.6" stroke="#444" stroke-width="0.6"/>
<line x1="143.0" y1="246.5" x2="144.6" y2="246.5" stroke="#333" stroke-width="0.55"/>
<line x1="144.1" y1="228.8" x2="144.1" y2="255.1" stroke="#2a2a2a" stroke-width="0.45"/>
<line x1="143.3" y1="255.1" x2="144.9" y2="255.1" stroke="#222" stroke-width="0.55"/>
<line x1="150.2" y1="214.7" x2="150.2" y2="224.0" stroke="#484848" stroke-width="0.48"/>
<line x1="149.3" y1="214.7" x2="151.1" y2="214.7" stroke="#444" stroke-width="0.6"/>
<line x1="149.4" y1="224.0" x2="151.0" y2="224.0" stroke="#333" stroke-width="0.55"/>
<line x1="150.5" y1="235.2" x2="150.5" y2="242.6" stroke="#2a2a2a" stroke-width="0.45"/>
<line x1="149.7" y1="242.6" x2="151.3" y2="242.6" stroke="#222" stroke-width="0.55"/>
<line x1="153.3" y1="196.6" x2="153.3" y2="228.3" stroke="#484848" stroke-width="0.48"/>
<line x1="152.4" y1="196.6" x2="154.2" y2="196.6" stroke="#444" stroke-width="0.6"/>
<line x1="152.5" y1="228.3" x2="154.1" y2="228.3" stroke="#333" stroke-width="0.55"/>
<line x1="153.6" y1="229.4" x2="153.6" y2="254.7" stroke="#2a2a2a" stroke-width="0.45"/>
<line x1="152.8" y1="254.7" x2="154.4" y2="254.7" stroke="#222" stroke-width="0.55"/>
<line x1="159.2" y1="188.2" x2="159.2" y2="223.2" stroke="#484848" stroke-width="0.48"/>
<line x1="158.3" y1="188.2" x2="160.1" y2="188.2" stroke="#444" stroke-width="0.6"/>
<line x1="158.4" y1="223.2" x2="160.0" y2="223.2" stroke="#333" stroke-width="0.55"/>
<line x1="159.5" y1="232.2" x2="159.5" y2="260.1" stroke="#2a2a2a" stroke-width="0.45"/>
<line x1="158.7" y1="260.1" x2="160.3" y2="260.1" stroke="#222" stroke-width="0.55"/>
<line x1="162.0" y1="222.7" x2="162.0" y2="227.8" stroke="#484848" stroke-width="0.48"/>
<line x1="161.1" y1="222.7" x2="162.9" y2="222.7" stroke="#444" stroke-width="0.6"/>
<line x1="161.2" y1="227.8" x2="162.8" y2="227.8" stroke="#333" stroke-width="0.55"/>
<line x1="162.3" y1="239.0" x2="162.3" y2="243.1" stroke="#2a2a2a" stroke-width="0.45"/>
<line x1="161.5" y1="243.1" x2="163.1" y2="243.1" stroke="#222" stroke-width="0.55"/>
<line x1="168.8" y1="193.2" x2="168.8" y2="241.4" stroke="#484848" stroke-width="0.48"/>
<line x1="167.9" y1="193.2" x2="169.7" y2="193.2" stroke="#444" stroke-width="0.6"/>
<line x1="168.0" y1="241.4" x2="169.6" y2="241.4" stroke="#333" stroke-width="0.55"/>
<line x1="169.1" y1="209.4" x2="169.1" y2="248.0" stroke="#2a2a2a" stroke-width="0.45"/>
<line x1="168.3" y1="248.0" x2="169.9" y2="248.0" stroke="#222" stroke-width="0.55"/>
<line x1="171.5" y1="189.1" x2="171.5" y2="233.5" stroke="#484848" stroke-width="0.48"/>
<line x1="170.6" y1="189.1" x2="172.4" y2="189.1" stroke="#444" stroke-width="0.6"/>
<line x1="170.7" y1="233.5" x2="172.3" y2="233.5" stroke="#333" stroke-width="0.55"/>
<line x1="171.8" y1="222.2" x2="171.8" y2="257.8" stroke="#2a2a2a" stroke-width="0.45"/>
<line x1="171.0" y1="257.8" x2="172.6" y2="257.8" stroke="#222" stroke-width="0.55"/>
<line x1="29.1" y1="167.3" x2="29.1" y2="280.7" stroke="#777" stroke-width="0.7"/>
<line x1="29.1" y1="281.0" x2="171.2" y2="281.0" stroke="#bbb" stroke-width="0.5"/>
<line x1="30.0" y1="279.8" x2="30.0" y2="282.3" stroke="#444" stroke-width="0.6"/>
<text x="30.0" y="290.0" class="tk" text-anchor="middle">0</text>
<line x1="42.9" y1="279.8" x2="42.9" y2="281.3" stroke="#444" stroke-width="0.6"/>
<line x1="55.8" y1="279.8" x2="55.8" y2="282.3" stroke="#444" stroke-width="0.6"/>
<text x="55.8" y="290.0" class="tk" text-anchor="middle">20</text>
<line x1="68.8" y1="279.8" x2="68.8" y2="281.3" stroke="#444" stroke-width="0.6"/>
<line x1="81.7" y1="279.8" x2="81.7" y2="282.3" stroke="#444" stroke-width="0.6"/>
<text x="81.7" y="290.0" class="tk" text-anchor="middle">40</text>
<line x1="94.6" y1="279.8" x2="94.6" y2="281.3" stroke="#444" stroke-width="0.6"/>
<line x1="107.5" y1="279.8" x2="107.5" y2="282.3" stroke="#444" stroke-width="0.6"/>
<text x="107.5" y="290.0" class="tk" text-anchor="middle">60</text>
<line x1="120.4" y1="279.8" x2="120.4" y2="281.3" stroke="#444" stroke-width="0.6"/>
<line x1="133.4" y1="279.8" x2="133.4" y2="282.3" stroke="#444" stroke-width="0.6"/>
<text x="133.4" y="290.0" class="tk" text-anchor="middle">80</text>
<line x1="146.3" y1="279.8" x2="146.3" y2="281.3" stroke="#444" stroke-width="0.6"/>
<line x1="159.2" y1="279.8" x2="159.2" y2="282.3" stroke="#444" stroke-width="0.6"/>
<text x="159.2" y="290.0" class="tk" text-anchor="middle">100</text>
<line x1="29.1" y1="167.4" x2="27.1" y2="167.4" stroke="#444" stroke-width="0.6"/>
<text x="25.9" y="169.5" class="tk" style="font-size:8.3px" text-anchor="end">80</text>
<line x1="29.1" y1="195.4" x2="27.1" y2="195.4" stroke="#444" stroke-width="0.6"/>
<text x="25.9" y="197.5" class="tk" style="font-size:8.3px" text-anchor="end">60</text>
<line x1="29.1" y1="223.4" x2="27.1" y2="223.4" stroke="#444" stroke-width="0.6"/>
<text x="25.9" y="225.5" class="tk" style="font-size:8.3px" text-anchor="end">40</text>
<line x1="29.1" y1="251.4" x2="27.1" y2="251.4" stroke="#444" stroke-width="0.6"/>
<text x="25.9" y="253.5" class="tk" style="font-size:8.3px" text-anchor="end">20</text>
<line x1="29.1" y1="279.4" x2="27.1" y2="279.4" stroke="#444" stroke-width="0.6"/>
<text x="25.9" y="281.5" class="tk" style="font-size:8.3px" text-anchor="end">0</text>
<line x1="29.1" y1="181.4" x2="27.9" y2="181.4" stroke="#444" stroke-width="0.6"/>
<line x1="29.1" y1="209.4" x2="27.9" y2="209.4" stroke="#444" stroke-width="0.6"/>
<line x1="29.1" y1="237.4" x2="27.9" y2="237.4" stroke="#444" stroke-width="0.6"/>
<line x1="29.1" y1="265.4" x2="27.9" y2="265.4" stroke="#444" stroke-width="0.6"/>
<polygon points="32.2,440.0 32.2,392.0 33.6,375.6 36.3,428.0 39.1,392.7 45.3,404.0 48.5,407.3 52.6,391.6 56.1,403.0 58.6,412.5 61.7,403.0 64.3,432.5 73.3,392.5 79.2,405.6 82.0,424.0 88.0,423.2 87.9,423.3 91.2,406.0 97.6,410.3 106.3,410.3 108.9,406.0 115.0,413.6 118.2,407.1 126.3,403.9 133.9,423.4 136.1,409.3 141.5,407.2 144.8,402.8 147.6,411.5 152.3,415.8 161.0,414.8 162.7,424.5 168.6,371.4 171.4,435.0 171.4,440.0" fill="#a8de7c"/>
<polyline points="32.2,392.0 33.6,375.6 36.3,428.0 39.1,392.7 45.3,404.0 48.5,407.3 52.6,391.6 56.1,403.0 58.6,412.5 61.7,403.0 64.3,432.5 73.3,392.5 79.2,405.6 82.0,424.0 88.0,423.2 87.9,423.3 91.2,406.0 97.6,410.3 106.3,410.3 108.9,406.0 115.0,413.6 118.2,407.1 126.3,403.9 133.9,423.4 136.1,409.3 141.5,407.2 144.8,402.8 147.6,411.5 152.3,415.8 161.0,414.8 162.7,424.5 168.6,371.4 171.4,435.0 171.4,439.0" fill="none" stroke="#2a2a2a" stroke-width="0.45" stroke-linejoin="round"/>
<polygon points="33.0,438.9 33.0,405.0 33.6,408.0 36.3,428.0 39.1,435.0 43.7,410.6 46.1,422.0 52.6,391.6 55.2,422.3 61.7,403.0 64.3,433.7 71.0,422.3 73.3,426.7 79.2,405.6 82.0,436.3 88.0,430.0 91.2,410.3 97.6,437.4 99.8,428.7 108.9,412.5 118.2,426.6 123.9,411.5 133.9,428.8 142.6,413.7 150.2,410.4 154.1,427.8 161.0,425.6 162.7,425.6 168.6,371.4 171.4,435.0 171.4,438.9" fill="#2a1ad6"/>
<polyline points="33.0,405.0 33.6,408.0 36.3,428.0 39.1,435.0 43.7,410.6 46.1,422.0 52.6,391.6 55.2,422.3 61.7,403.0 64.3,433.7 71.0,422.3 73.3,426.7 79.2,405.6 82.0,436.3 88.0,430.0 91.2,410.3 97.6,437.4 99.8,428.7 108.9,412.5 118.2,426.6 123.9,411.5 133.9,428.8 142.6,413.7 150.2,410.4 154.1,427.8 161.0,425.6 162.7,425.6 168.6,371.4 171.4,435.0 171.4,439.0" fill="none" stroke="#2a2a2a" stroke-width="0.45" stroke-linejoin="round"/>
<line x1="33.2" y1="348.7" x2="33.2" y2="411.9" stroke="#484848" stroke-width="0.48"/>
<line x1="32.3" y1="348.7" x2="34.1" y2="348.7" stroke="#444" stroke-width="0.6"/>
<line x1="32.4" y1="411.9" x2="34.0" y2="411.9" stroke="#333" stroke-width="0.55"/>
<line x1="33.5" y1="380.7" x2="33.5" y2="431.3" stroke="#2a2a2a" stroke-width="0.45"/>
<line x1="32.7" y1="431.3" x2="34.3" y2="431.3" stroke="#222" stroke-width="0.55"/>
<line x1="38.7" y1="366.4" x2="38.7" y2="429.1" stroke="#484848" stroke-width="0.48"/>
<line x1="37.8" y1="366.4" x2="39.6" y2="366.4" stroke="#444" stroke-width="0.6"/>
<line x1="37.9" y1="429.1" x2="39.5" y2="429.1" stroke="#333" stroke-width="0.55"/>
<line x1="39.0" y1="408.9" x2="39.0" y2="438.2" stroke="#2a2a2a" stroke-width="0.45"/>
<line x1="38.2" y1="438.2" x2="39.8" y2="438.2" stroke="#222" stroke-width="0.55"/>
<line x1="44.1" y1="379.0" x2="44.1" y2="424.6" stroke="#484848" stroke-width="0.48"/>
<line x1="43.2" y1="379.0" x2="45.0" y2="379.0" stroke="#444" stroke-width="0.6"/>
<line x1="43.3" y1="424.6" x2="44.9" y2="424.6" stroke="#333" stroke-width="0.55"/>
<line x1="44.4" y1="394.2" x2="44.4" y2="430.8" stroke="#2a2a2a" stroke-width="0.45"/>
<line x1="43.6" y1="430.8" x2="45.2" y2="430.8" stroke="#222" stroke-width="0.55"/>
<line x1="46.2" y1="389.4" x2="46.2" y2="420.5" stroke="#484848" stroke-width="0.48"/>
<line x1="45.3" y1="389.4" x2="47.1" y2="389.4" stroke="#444" stroke-width="0.6"/>
<line x1="45.4" y1="420.5" x2="47.0" y2="420.5" stroke="#333" stroke-width="0.55"/>
<line x1="46.5" y1="409.1" x2="46.5" y2="434.0" stroke="#2a2a2a" stroke-width="0.45"/>
<line x1="45.7" y1="434.0" x2="47.3" y2="434.0" stroke="#222" stroke-width="0.55"/>
<line x1="52.7" y1="373.5" x2="52.7" y2="410.4" stroke="#484848" stroke-width="0.48"/>
<line x1="51.8" y1="373.5" x2="53.6" y2="373.5" stroke="#444" stroke-width="0.6"/>
<line x1="51.9" y1="410.4" x2="53.5" y2="410.4" stroke="#333" stroke-width="0.55"/>
<line x1="55.5" y1="385.5" x2="55.5" y2="416.6" stroke="#484848" stroke-width="0.48"/>
<line x1="54.6" y1="385.5" x2="56.4" y2="385.5" stroke="#444" stroke-width="0.6"/>
<line x1="54.7" y1="416.6" x2="56.3" y2="416.6" stroke="#333" stroke-width="0.55"/>
<line x1="55.8" y1="409.0" x2="55.8" y2="433.8" stroke="#2a2a2a" stroke-width="0.45"/>
<line x1="55.0" y1="433.8" x2="56.6" y2="433.8" stroke="#222" stroke-width="0.55"/>
<line x1="61.4" y1="402.8" x2="61.4" y2="405.9" stroke="#484848" stroke-width="0.48"/>
<line x1="60.5" y1="402.8" x2="62.3" y2="402.8" stroke="#444" stroke-width="0.6"/>
<line x1="60.6" y1="405.9" x2="62.2" y2="405.9" stroke="#333" stroke-width="0.55"/>
<line x1="70.0" y1="395.2" x2="70.0" y2="419.1" stroke="#484848" stroke-width="0.48"/>
<line x1="69.1" y1="395.2" x2="70.9" y2="395.2" stroke="#444" stroke-width="0.6"/>
<line x1="69.2" y1="419.1" x2="70.8" y2="419.1" stroke="#333" stroke-width="0.55"/>
<line x1="70.3" y1="414.4" x2="70.3" y2="433.6" stroke="#2a2a2a" stroke-width="0.45"/>
<line x1="69.5" y1="433.6" x2="71.1" y2="433.6" stroke="#222" stroke-width="0.55"/>
<line x1="73.3" y1="372.9" x2="73.3" y2="412.1" stroke="#484848" stroke-width="0.48"/>
<line x1="72.4" y1="372.9" x2="74.2" y2="372.9" stroke="#444" stroke-width="0.6"/>
<line x1="72.5" y1="412.1" x2="74.1" y2="412.1" stroke="#333" stroke-width="0.55"/>
<line x1="73.6" y1="411.0" x2="73.6" y2="438.2" stroke="#2a2a2a" stroke-width="0.45"/>
<line x1="72.8" y1="438.2" x2="74.4" y2="438.2" stroke="#222" stroke-width="0.55"/>
<line x1="79.2" y1="381.1" x2="79.2" y2="430.1" stroke="#484848" stroke-width="0.48"/>
<line x1="78.3" y1="381.1" x2="80.1" y2="381.1" stroke="#444" stroke-width="0.6"/>
<line x1="78.4" y1="430.1" x2="80.0" y2="430.1" stroke="#333" stroke-width="0.55"/>
<line x1="91.2" y1="391.3" x2="91.2" y2="420.7" stroke="#484848" stroke-width="0.48"/>
<line x1="90.3" y1="391.3" x2="92.1" y2="391.3" stroke="#444" stroke-width="0.6"/>
<line x1="90.4" y1="420.7" x2="92.0" y2="420.7" stroke="#333" stroke-width="0.55"/>
<line x1="91.5" y1="398.5" x2="91.5" y2="422.1" stroke="#2a2a2a" stroke-width="0.45"/>
<line x1="90.7" y1="422.1" x2="92.3" y2="422.1" stroke="#222" stroke-width="0.55"/>
<line x1="97.6" y1="404.5" x2="97.6" y2="416.1" stroke="#484848" stroke-width="0.48"/>
<line x1="96.7" y1="404.5" x2="98.5" y2="404.5" stroke="#444" stroke-width="0.6"/>
<line x1="96.8" y1="416.1" x2="98.4" y2="416.1" stroke="#333" stroke-width="0.55"/>
<line x1="97.9" y1="432.8" x2="97.9" y2="438.2" stroke="#2a2a2a" stroke-width="0.45"/>
<line x1="97.1" y1="438.2" x2="98.7" y2="438.2" stroke="#222" stroke-width="0.55"/>
<line x1="99.8" y1="404.5" x2="99.8" y2="416.1" stroke="#484848" stroke-width="0.48"/>
<line x1="98.9" y1="404.5" x2="100.7" y2="404.5" stroke="#444" stroke-width="0.6"/>
<line x1="99.0" y1="416.1" x2="100.6" y2="416.1" stroke="#333" stroke-width="0.55"/>
<line x1="100.1" y1="424.1" x2="100.1" y2="433.3" stroke="#2a2a2a" stroke-width="0.45"/>
<line x1="99.3" y1="433.3" x2="100.9" y2="433.3" stroke="#222" stroke-width="0.55"/>
<line x1="106.3" y1="399.5" x2="106.3" y2="421.1" stroke="#484848" stroke-width="0.48"/>
<line x1="105.4" y1="399.5" x2="107.2" y2="399.5" stroke="#444" stroke-width="0.6"/>
<line x1="105.5" y1="421.1" x2="107.1" y2="421.1" stroke="#333" stroke-width="0.55"/>
<line x1="106.6" y1="408.5" x2="106.6" y2="425.8" stroke="#2a2a2a" stroke-width="0.45"/>
<line x1="105.8" y1="425.8" x2="107.4" y2="425.8" stroke="#222" stroke-width="0.55"/>
<line x1="108.9" y1="385.0" x2="108.9" y2="427.0" stroke="#484848" stroke-width="0.48"/>
<line x1="108.0" y1="385.0" x2="109.8" y2="385.0" stroke="#444" stroke-width="0.6"/>
<line x1="108.1" y1="427.0" x2="109.7" y2="427.0" stroke="#333" stroke-width="0.55"/>
<line x1="109.2" y1="395.7" x2="109.2" y2="429.3" stroke="#2a2a2a" stroke-width="0.45"/>
<line x1="108.4" y1="429.3" x2="110.0" y2="429.3" stroke="#222" stroke-width="0.55"/>
<line x1="115.0" y1="394.5" x2="115.0" y2="432.7" stroke="#484848" stroke-width="0.48"/>
<line x1="114.1" y1="394.5" x2="115.9" y2="394.5" stroke="#444" stroke-width="0.6"/>
<line x1="114.2" y1="432.7" x2="115.8" y2="432.7" stroke="#333" stroke-width="0.55"/>
<line x1="115.3" y1="406.5" x2="115.3" y2="437.0" stroke="#2a2a2a" stroke-width="0.45"/>
<line x1="114.5" y1="437.0" x2="116.1" y2="437.0" stroke="#222" stroke-width="0.55"/>
<line x1="118.2" y1="392.0" x2="118.2" y2="422.2" stroke="#484848" stroke-width="0.48"/>
<line x1="117.3" y1="392.0" x2="119.1" y2="392.0" stroke="#444" stroke-width="0.6"/>
<line x1="117.4" y1="422.2" x2="119.0" y2="422.2" stroke="#333" stroke-width="0.55"/>
<line x1="118.5" y1="414.5" x2="118.5" y2="438.2" stroke="#2a2a2a" stroke-width="0.45"/>
<line x1="117.7" y1="438.2" x2="119.3" y2="438.2" stroke="#222" stroke-width="0.55"/>
<line x1="124.7" y1="390.9" x2="124.7" y2="418.2" stroke="#484848" stroke-width="0.48"/>
<line x1="123.8" y1="390.9" x2="125.6" y2="390.9" stroke="#444" stroke-width="0.6"/>
<line x1="123.9" y1="418.2" x2="125.5" y2="418.2" stroke="#333" stroke-width="0.55"/>
<line x1="125.0" y1="402.0" x2="125.0" y2="423.8" stroke="#2a2a2a" stroke-width="0.45"/>
<line x1="124.2" y1="423.8" x2="125.8" y2="423.8" stroke="#222" stroke-width="0.55"/>
<line x1="126.8" y1="390.3" x2="126.8" y2="420.1" stroke="#484848" stroke-width="0.48"/>
<line x1="125.9" y1="390.3" x2="127.7" y2="390.3" stroke="#444" stroke-width="0.6"/>
<line x1="126.0" y1="420.1" x2="127.6" y2="420.1" stroke="#333" stroke-width="0.55"/>
<line x1="127.1" y1="404.6" x2="127.1" y2="428.4" stroke="#2a2a2a" stroke-width="0.45"/>
<line x1="126.3" y1="428.4" x2="127.9" y2="428.4" stroke="#222" stroke-width="0.55"/>
<line x1="135.4" y1="392.0" x2="135.4" y2="435.6" stroke="#484848" stroke-width="0.48"/>
<line x1="134.5" y1="392.0" x2="136.3" y2="392.0" stroke="#444" stroke-width="0.6"/>
<line x1="134.6" y1="435.6" x2="136.2" y2="435.6" stroke="#333" stroke-width="0.55"/>
<line x1="135.7" y1="408.8" x2="135.7" y2="438.2" stroke="#2a2a2a" stroke-width="0.45"/>
<line x1="134.9" y1="438.2" x2="136.5" y2="438.2" stroke="#222" stroke-width="0.55"/>
<line x1="141.9" y1="389.8" x2="141.9" y2="423.5" stroke="#484848" stroke-width="0.48"/>
<line x1="141.0" y1="389.8" x2="142.8" y2="389.8" stroke="#444" stroke-width="0.6"/>
<line x1="141.1" y1="423.5" x2="142.7" y2="423.5" stroke="#333" stroke-width="0.55"/>
<line x1="142.2" y1="401.4" x2="142.2" y2="428.4" stroke="#2a2a2a" stroke-width="0.45"/>
<line x1="141.4" y1="428.4" x2="143.0" y2="428.4" stroke="#222" stroke-width="0.55"/>
<line x1="144.8" y1="389.4" x2="144.8" y2="416.2" stroke="#484848" stroke-width="0.48"/>
<line x1="143.9" y1="389.4" x2="145.7" y2="389.4" stroke="#444" stroke-width="0.6"/>
<line x1="144.0" y1="416.2" x2="145.6" y2="416.2" stroke="#333" stroke-width="0.55"/>
<line x1="145.1" y1="402.0" x2="145.1" y2="423.5" stroke="#2a2a2a" stroke-width="0.45"/>
<line x1="144.3" y1="423.5" x2="145.9" y2="423.5" stroke="#222" stroke-width="0.55"/>
<line x1="150.6" y1="389.4" x2="150.6" y2="435.0" stroke="#484848" stroke-width="0.48"/>
<line x1="149.7" y1="389.4" x2="151.5" y2="389.4" stroke="#444" stroke-width="0.6"/>
<line x1="149.8" y1="435.0" x2="151.4" y2="435.0" stroke="#333" stroke-width="0.55"/>
<line x1="154.1" y1="403.5" x2="154.1" y2="427.7" stroke="#484848" stroke-width="0.48"/>
<line x1="153.2" y1="403.5" x2="155.0" y2="403.5" stroke="#444" stroke-width="0.6"/>
<line x1="153.3" y1="427.7" x2="154.9" y2="427.7" stroke="#333" stroke-width="0.55"/>
<line x1="154.4" y1="418.1" x2="154.4" y2="437.5" stroke="#2a2a2a" stroke-width="0.45"/>
<line x1="153.6" y1="437.5" x2="155.2" y2="437.5" stroke="#222" stroke-width="0.55"/>
<line x1="159.9" y1="400.7" x2="159.9" y2="429.2" stroke="#484848" stroke-width="0.48"/>
<line x1="159.0" y1="400.7" x2="160.8" y2="400.7" stroke="#444" stroke-width="0.6"/>
<line x1="159.1" y1="429.2" x2="160.7" y2="429.2" stroke="#333" stroke-width="0.55"/>
<line x1="160.2" y1="414.6" x2="160.2" y2="437.3" stroke="#2a2a2a" stroke-width="0.45"/>
<line x1="159.4" y1="437.3" x2="161.0" y2="437.3" stroke="#222" stroke-width="0.55"/>
<line x1="168.8" y1="331.3" x2="168.8" y2="420.6" stroke="#484848" stroke-width="0.48"/>
<line x1="167.9" y1="331.3" x2="169.7" y2="331.3" stroke="#444" stroke-width="0.6"/>
<line x1="168.0" y1="420.6" x2="169.6" y2="420.6" stroke="#333" stroke-width="0.55"/>
<line x1="171.8" y1="388.8" x2="171.8" y2="438.2" stroke="#484848" stroke-width="0.48"/>
<line x1="170.9" y1="388.8" x2="172.7" y2="388.8" stroke="#444" stroke-width="0.6"/>
<line x1="171.0" y1="438.2" x2="172.6" y2="438.2" stroke="#333" stroke-width="0.55"/>
<line x1="31.6" y1="327.0" x2="31.6" y2="440.2" stroke="#777" stroke-width="0.7"/>
<line x1="31.6" y1="440.5" x2="171.5" y2="440.5" stroke="#bbb" stroke-width="0.5"/>
<line x1="32.1" y1="439.3" x2="32.1" y2="441.8" stroke="#444" stroke-width="0.6"/>
<text x="32.1" y="449.9" class="tk" text-anchor="middle">0</text>
<line x1="44.9" y1="439.3" x2="44.9" y2="440.8" stroke="#444" stroke-width="0.6"/>
<line x1="57.7" y1="439.3" x2="57.7" y2="441.8" stroke="#444" stroke-width="0.6"/>
<text x="57.7" y="449.9" class="tk" text-anchor="middle">20</text>
<line x1="70.4" y1="439.3" x2="70.4" y2="440.8" stroke="#444" stroke-width="0.6"/>
<line x1="83.2" y1="439.3" x2="83.2" y2="441.8" stroke="#444" stroke-width="0.6"/>
<text x="83.2" y="449.9" class="tk" text-anchor="middle">40</text>
<line x1="96.0" y1="439.3" x2="96.0" y2="440.8" stroke="#444" stroke-width="0.6"/>
<line x1="108.8" y1="439.3" x2="108.8" y2="441.8" stroke="#444" stroke-width="0.6"/>
<text x="108.8" y="449.9" class="tk" text-anchor="middle">60</text>
<line x1="121.6" y1="439.3" x2="121.6" y2="440.8" stroke="#444" stroke-width="0.6"/>
<line x1="134.3" y1="439.3" x2="134.3" y2="441.8" stroke="#444" stroke-width="0.6"/>
<text x="134.3" y="449.9" class="tk" text-anchor="middle">80</text>
<line x1="147.1" y1="439.3" x2="147.1" y2="440.8" stroke="#444" stroke-width="0.6"/>
<line x1="159.9" y1="439.3" x2="159.9" y2="441.8" stroke="#444" stroke-width="0.6"/>
<text x="159.9" y="449.9" class="tk" text-anchor="middle">100</text>
<line x1="31.6" y1="333.8" x2="29.6" y2="333.8" stroke="#444" stroke-width="0.6"/>
<text x="27.1" y="336.6" class="tk" style="font-size:8px" text-anchor="end">6</text>
<line x1="31.6" y1="369.0" x2="29.6" y2="369.0" stroke="#444" stroke-width="0.6"/>
<text x="27.1" y="371.8" class="tk" style="font-size:8px" text-anchor="end">5</text>
<line x1="31.6" y1="404.2" x2="29.6" y2="404.2" stroke="#444" stroke-width="0.6"/>
<text x="27.1" y="407.0" class="tk" style="font-size:8px" text-anchor="end">4</text>
<line x1="31.6" y1="438.6" x2="29.6" y2="438.6" stroke="#444" stroke-width="0.6"/>
<text x="27.1" y="441.4" class="tk" style="font-size:8px" text-anchor="end">3</text>
<line x1="31.6" y1="351.4" x2="30.4" y2="351.4" stroke="#444" stroke-width="0.6"/>
<line x1="31.6" y1="386.6" x2="30.4" y2="386.6" stroke="#444" stroke-width="0.6"/>
<line x1="31.6" y1="421.4" x2="30.4" y2="421.4" stroke="#444" stroke-width="0.6"/>
<polygon points="214.3,124.7 214.3,60.0 215.7,57.5 217.8,95.3 221.2,47.3 226.3,50.4 228.8,47.3 234.5,79.0 238.1,57.2 246.9,83.1 256.5,45.2 258.5,47.0 261.4,51.5 265.2,79.7 273.8,49.3 280.5,59.4 288.4,67.3 291.8,72.9 297.4,74.1 300.8,58.3 306.3,63.9 309.6,58.3 316.4,66.1 319.3,59.4 325.4,56.0 334.4,70.6 337.8,68.4 343.4,66.1 346.3,93.1 354.6,77.4 356.2,123.5 356.2,124.7" fill="#a8de7c"/>
<polyline points="214.3,60.0 215.7,57.5 217.8,95.3 221.2,47.3 226.3,50.4 228.8,47.3 234.5,79.0 238.1,57.2 246.9,83.1 256.5,45.2 258.5,47.0 261.4,51.5 265.2,79.7 273.8,49.3 280.5,59.4 288.4,67.3 291.8,72.9 297.4,74.1 300.8,58.3 306.3,63.9 309.6,58.3 316.4,66.1 319.3,59.4 325.4,56.0 334.4,70.6 337.8,68.4 343.4,66.1 346.3,93.1 354.6,77.4 356.2,123.5 356.2,123.7" fill="none" stroke="#2a2a2a" stroke-width="0.45" stroke-linejoin="round"/>
<polygon points="214.7,123.6 214.7,91.2 216.1,99.4 217.8,94.3 220.6,103.5 226.3,86.0 229.0,100.2 234.7,84.5 238.0,94.3 246.9,111.2 254.8,92.1 258.0,85.3 262.5,83.1 264.8,101.1 270.4,100.0 273.8,93.2 280.5,87.6 282.8,92.5 290.7,86.4 294.0,80.8 300.8,80.8 304.0,81.9 306.7,82.6 309.6,78.1 316.4,92.0 319.3,93.1 325.4,97.6 328.3,87.5 337.3,102.1 343.4,86.4 346.3,95.4 352.4,92.0 356.2,123.5 356.2,123.6" fill="#2a1ad6"/>
<polyline points="214.7,91.2 216.1,99.4 217.8,94.3 220.6,103.5 226.3,86.0 229.0,100.2 234.7,84.5 238.0,94.3 246.9,111.2 254.8,92.1 258.0,85.3 262.5,83.1 264.8,101.1 270.4,100.0 273.8,93.2 280.5,87.6 282.8,92.5 290.7,86.4 294.0,80.8 300.8,80.8 304.0,81.9 306.7,82.6 309.6,78.1 316.4,92.0 319.3,93.1 325.4,97.6 328.3,87.5 337.3,102.1 343.4,86.4 346.3,95.4 352.4,92.0 356.2,123.5 356.2,123.7" fill="none" stroke="#2a2a2a" stroke-width="0.45" stroke-linejoin="round"/>
<line x1="214.9" y1="41.5" x2="214.9" y2="76.4" stroke="#484848" stroke-width="0.48"/>
<line x1="214.0" y1="41.5" x2="215.8" y2="41.5" stroke="#444" stroke-width="0.6"/>
<line x1="214.1" y1="76.4" x2="215.7" y2="76.4" stroke="#333" stroke-width="0.55"/>
<line x1="215.2" y1="78.4" x2="215.2" y2="106.3" stroke="#2a2a2a" stroke-width="0.45"/>
<line x1="214.4" y1="106.3" x2="216.0" y2="106.3" stroke="#222" stroke-width="0.55"/>
<line x1="216.2" y1="37.4" x2="216.2" y2="95.6" stroke="#484848" stroke-width="0.48"/>
<line x1="215.3" y1="37.4" x2="217.1" y2="37.4" stroke="#444" stroke-width="0.6"/>
<line x1="215.4" y1="95.6" x2="217.0" y2="95.6" stroke="#333" stroke-width="0.55"/>
<line x1="216.5" y1="75.8" x2="216.5" y2="122.4" stroke="#2a2a2a" stroke-width="0.45"/>
<line x1="215.7" y1="122.4" x2="217.3" y2="122.4" stroke="#222" stroke-width="0.55"/>
<line x1="221.0" y1="24.5" x2="221.0" y2="75.7" stroke="#484848" stroke-width="0.48"/>
<line x1="220.1" y1="24.5" x2="221.9" y2="24.5" stroke="#444" stroke-width="0.6"/>
<line x1="220.2" y1="75.7" x2="221.8" y2="75.7" stroke="#333" stroke-width="0.55"/>
<line x1="221.3" y1="81.8" x2="221.3" y2="122.8" stroke="#2a2a2a" stroke-width="0.45"/>
<line x1="220.5" y1="122.8" x2="222.1" y2="122.8" stroke="#222" stroke-width="0.55"/>
<line x1="226.0" y1="34.6" x2="226.0" y2="65.8" stroke="#484848" stroke-width="0.48"/>
<line x1="225.1" y1="34.6" x2="226.9" y2="34.6" stroke="#444" stroke-width="0.6"/>
<line x1="225.2" y1="65.8" x2="226.8" y2="65.8" stroke="#333" stroke-width="0.55"/>
<line x1="226.3" y1="74.4" x2="226.3" y2="99.4" stroke="#2a2a2a" stroke-width="0.45"/>
<line x1="225.5" y1="99.4" x2="227.1" y2="99.4" stroke="#222" stroke-width="0.55"/>
<line x1="228.9" y1="36.9" x2="228.9" y2="58.8" stroke="#484848" stroke-width="0.48"/>
<line x1="228.0" y1="36.9" x2="229.8" y2="36.9" stroke="#444" stroke-width="0.6"/>
<line x1="228.1" y1="58.8" x2="229.7" y2="58.8" stroke="#333" stroke-width="0.55"/>
<line x1="229.2" y1="90.9" x2="229.2" y2="108.4" stroke="#2a2a2a" stroke-width="0.45"/>
<line x1="228.4" y1="108.4" x2="230.0" y2="108.4" stroke="#222" stroke-width="0.55"/>
<line x1="237.9" y1="30.1" x2="237.9" y2="86.7" stroke="#484848" stroke-width="0.48"/>
<line x1="237.0" y1="30.1" x2="238.8" y2="30.1" stroke="#444" stroke-width="0.6"/>
<line x1="237.1" y1="86.7" x2="238.7" y2="86.7" stroke="#333" stroke-width="0.55"/>
<line x1="238.2" y1="71.4" x2="238.2" y2="116.7" stroke="#2a2a2a" stroke-width="0.45"/>
<line x1="237.4" y1="116.7" x2="239.0" y2="116.7" stroke="#222" stroke-width="0.55"/>
<line x1="244.7" y1="62.8" x2="244.7" y2="90.4" stroke="#484848" stroke-width="0.48"/>
<line x1="243.8" y1="62.8" x2="245.6" y2="62.8" stroke="#444" stroke-width="0.6"/>
<line x1="243.9" y1="90.4" x2="245.5" y2="90.4" stroke="#333" stroke-width="0.55"/>
<line x1="245.0" y1="96.0" x2="245.0" y2="118.1" stroke="#2a2a2a" stroke-width="0.45"/>
<line x1="244.2" y1="118.1" x2="245.8" y2="118.1" stroke="#222" stroke-width="0.55"/>
<line x1="246.9" y1="71.4" x2="246.9" y2="94.8" stroke="#484848" stroke-width="0.48"/>
<line x1="246.0" y1="71.4" x2="247.8" y2="71.4" stroke="#444" stroke-width="0.6"/>
<line x1="246.1" y1="94.8" x2="247.7" y2="94.8" stroke="#333" stroke-width="0.55"/>
<line x1="247.2" y1="101.8" x2="247.2" y2="120.6" stroke="#2a2a2a" stroke-width="0.45"/>
<line x1="246.4" y1="120.6" x2="248.0" y2="120.6" stroke="#222" stroke-width="0.55"/>
<line x1="253.7" y1="48.2" x2="253.7" y2="64.3" stroke="#484848" stroke-width="0.48"/>
<line x1="252.8" y1="48.2" x2="254.6" y2="48.2" stroke="#444" stroke-width="0.6"/>
<line x1="252.9" y1="64.3" x2="254.5" y2="64.3" stroke="#333" stroke-width="0.55"/>
<line x1="254.0" y1="88.3" x2="254.0" y2="101.2" stroke="#2a2a2a" stroke-width="0.45"/>
<line x1="253.2" y1="101.2" x2="254.8" y2="101.2" stroke="#222" stroke-width="0.55"/>
<line x1="255.9" y1="27.9" x2="255.9" y2="67.2" stroke="#484848" stroke-width="0.48"/>
<line x1="255.0" y1="27.9" x2="256.8" y2="27.9" stroke="#444" stroke-width="0.6"/>
<line x1="255.1" y1="67.2" x2="256.7" y2="67.2" stroke="#333" stroke-width="0.55"/>
<line x1="256.2" y1="74.0" x2="256.2" y2="105.5" stroke="#2a2a2a" stroke-width="0.45"/>
<line x1="255.4" y1="105.5" x2="257.0" y2="105.5" stroke="#222" stroke-width="0.55"/>
<line x1="262.5" y1="36.2" x2="262.5" y2="83.1" stroke="#484848" stroke-width="0.48"/>
<line x1="261.6" y1="36.2" x2="263.4" y2="36.2" stroke="#444" stroke-width="0.6"/>
<line x1="261.7" y1="83.1" x2="263.3" y2="83.1" stroke="#333" stroke-width="0.55"/>
<line x1="262.8" y1="64.3" x2="262.8" y2="101.9" stroke="#2a2a2a" stroke-width="0.45"/>
<line x1="262.0" y1="101.9" x2="263.6" y2="101.9" stroke="#222" stroke-width="0.55"/>
<line x1="273.8" y1="38.5" x2="273.8" y2="60.1" stroke="#484848" stroke-width="0.48"/>
<line x1="272.9" y1="38.5" x2="274.7" y2="38.5" stroke="#444" stroke-width="0.6"/>
<line x1="273.0" y1="60.1" x2="274.6" y2="60.1" stroke="#333" stroke-width="0.55"/>
<line x1="274.1" y1="84.6" x2="274.1" y2="101.8" stroke="#2a2a2a" stroke-width="0.45"/>
<line x1="273.3" y1="101.8" x2="274.9" y2="101.8" stroke="#222" stroke-width="0.55"/>
<line x1="280.5" y1="48.8" x2="280.5" y2="70.0" stroke="#484848" stroke-width="0.48"/>
<line x1="279.6" y1="48.8" x2="281.4" y2="48.8" stroke="#444" stroke-width="0.6"/>
<line x1="279.7" y1="70.0" x2="281.3" y2="70.0" stroke="#333" stroke-width="0.55"/>
<line x1="280.8" y1="79.1" x2="280.8" y2="96.1" stroke="#2a2a2a" stroke-width="0.45"/>
<line x1="280.0" y1="96.1" x2="281.6" y2="96.1" stroke="#222" stroke-width="0.55"/>
<line x1="283.2" y1="52.7" x2="283.2" y2="71.5" stroke="#484848" stroke-width="0.48"/>
<line x1="282.3" y1="52.7" x2="284.1" y2="52.7" stroke="#444" stroke-width="0.6"/>
<line x1="282.4" y1="71.5" x2="284.0" y2="71.5" stroke="#333" stroke-width="0.55"/>
<line x1="283.5" y1="84.7" x2="283.5" y2="99.7" stroke="#2a2a2a" stroke-width="0.45"/>
<line x1="282.7" y1="99.7" x2="284.3" y2="99.7" stroke="#222" stroke-width="0.55"/>
<line x1="289.5" y1="54.9" x2="289.5" y2="83.3" stroke="#484848" stroke-width="0.48"/>
<line x1="288.6" y1="54.9" x2="290.4" y2="54.9" stroke="#444" stroke-width="0.6"/>
<line x1="288.7" y1="83.3" x2="290.3" y2="83.3" stroke="#333" stroke-width="0.55"/>
<line x1="289.8" y1="76.0" x2="289.8" y2="98.7" stroke="#2a2a2a" stroke-width="0.45"/>
<line x1="289.0" y1="98.7" x2="290.6" y2="98.7" stroke="#222" stroke-width="0.55"/>
<line x1="291.8" y1="57.2" x2="291.8" y2="88.6" stroke="#484848" stroke-width="0.48"/>
<line x1="290.9" y1="57.2" x2="292.7" y2="57.2" stroke="#444" stroke-width="0.6"/>
<line x1="291.0" y1="88.6" x2="292.6" y2="88.6" stroke="#333" stroke-width="0.55"/>
<line x1="292.1" y1="72.0" x2="292.1" y2="97.1" stroke="#2a2a2a" stroke-width="0.45"/>
<line x1="291.3" y1="97.1" x2="292.9" y2="97.1" stroke="#222" stroke-width="0.55"/>
<line x1="298.5" y1="54.9" x2="298.5" y2="83.1" stroke="#484848" stroke-width="0.48"/>
<line x1="297.6" y1="54.9" x2="299.4" y2="54.9" stroke="#444" stroke-width="0.6"/>
<line x1="297.7" y1="83.1" x2="299.3" y2="83.1" stroke="#333" stroke-width="0.55"/>
<line x1="298.8" y1="69.5" x2="298.8" y2="92.1" stroke="#2a2a2a" stroke-width="0.45"/>
<line x1="298.0" y1="92.1" x2="299.6" y2="92.1" stroke="#222" stroke-width="0.55"/>
<line x1="301.2" y1="43.6" x2="301.2" y2="73.8" stroke="#484848" stroke-width="0.48"/>
<line x1="300.3" y1="43.6" x2="302.1" y2="43.6" stroke="#444" stroke-width="0.6"/>
<line x1="300.4" y1="73.8" x2="302.0" y2="73.8" stroke="#333" stroke-width="0.55"/>
<line x1="301.5" y1="68.9" x2="301.5" y2="93.0" stroke="#2a2a2a" stroke-width="0.45"/>
<line x1="300.7" y1="93.0" x2="302.3" y2="93.0" stroke="#222" stroke-width="0.55"/>
<line x1="310.3" y1="42.5" x2="310.3" y2="75.7" stroke="#484848" stroke-width="0.48"/>
<line x1="309.4" y1="42.5" x2="311.2" y2="42.5" stroke="#444" stroke-width="0.6"/>
<line x1="309.5" y1="75.7" x2="311.1" y2="75.7" stroke="#333" stroke-width="0.55"/>
<line x1="310.6" y1="66.2" x2="310.6" y2="92.8" stroke="#2a2a2a" stroke-width="0.45"/>
<line x1="309.8" y1="92.8" x2="311.4" y2="92.8" stroke="#222" stroke-width="0.55"/>
<line x1="316.4" y1="53.8" x2="316.4" y2="78.4" stroke="#484848" stroke-width="0.48"/>
<line x1="315.5" y1="53.8" x2="317.3" y2="53.8" stroke="#444" stroke-width="0.6"/>
<line x1="315.6" y1="78.4" x2="317.2" y2="78.4" stroke="#333" stroke-width="0.55"/>
<line x1="316.7" y1="82.2" x2="316.7" y2="101.8" stroke="#2a2a2a" stroke-width="0.45"/>
<line x1="315.9" y1="101.8" x2="317.5" y2="101.8" stroke="#222" stroke-width="0.55"/>
<line x1="319.3" y1="41.4" x2="319.3" y2="77.4" stroke="#484848" stroke-width="0.48"/>
<line x1="318.4" y1="41.4" x2="320.2" y2="41.4" stroke="#444" stroke-width="0.6"/>
<line x1="318.5" y1="77.4" x2="320.1" y2="77.4" stroke="#333" stroke-width="0.55"/>
<line x1="319.6" y1="78.7" x2="319.6" y2="107.5" stroke="#2a2a2a" stroke-width="0.45"/>
<line x1="318.8" y1="107.5" x2="320.4" y2="107.5" stroke="#222" stroke-width="0.55"/>
<line x1="325.4" y1="42.5" x2="325.4" y2="69.5" stroke="#484848" stroke-width="0.48"/>
<line x1="324.5" y1="42.5" x2="326.3" y2="42.5" stroke="#444" stroke-width="0.6"/>
<line x1="324.6" y1="69.5" x2="326.2" y2="69.5" stroke="#333" stroke-width="0.55"/>
<line x1="325.7" y1="86.8" x2="325.7" y2="108.4" stroke="#2a2a2a" stroke-width="0.45"/>
<line x1="324.9" y1="108.4" x2="326.5" y2="108.4" stroke="#222" stroke-width="0.55"/>
<line x1="328.3" y1="49.7" x2="328.3" y2="71.7" stroke="#484848" stroke-width="0.48"/>
<line x1="327.4" y1="49.7" x2="329.2" y2="49.7" stroke="#444" stroke-width="0.6"/>
<line x1="327.5" y1="71.7" x2="329.1" y2="71.7" stroke="#333" stroke-width="0.55"/>
<line x1="328.6" y1="78.7" x2="328.6" y2="96.3" stroke="#2a2a2a" stroke-width="0.45"/>
<line x1="327.8" y1="96.3" x2="329.4" y2="96.3" stroke="#222" stroke-width="0.55"/>
<line x1="334.4" y1="59.4" x2="334.4" y2="81.8" stroke="#484848" stroke-width="0.48"/>
<line x1="333.5" y1="59.4" x2="335.3" y2="59.4" stroke="#444" stroke-width="0.6"/>
<line x1="333.6" y1="81.8" x2="335.2" y2="81.8" stroke="#333" stroke-width="0.55"/>
<line x1="334.7" y1="88.4" x2="334.7" y2="106.4" stroke="#2a2a2a" stroke-width="0.45"/>
<line x1="333.9" y1="106.4" x2="335.5" y2="106.4" stroke="#222" stroke-width="0.55"/>
<line x1="337.3" y1="61.0" x2="337.3" y2="76.4" stroke="#484848" stroke-width="0.48"/>
<line x1="336.4" y1="61.0" x2="338.2" y2="61.0" stroke="#444" stroke-width="0.6"/>
<line x1="336.5" y1="76.4" x2="338.1" y2="76.4" stroke="#333" stroke-width="0.55"/>
<line x1="337.6" y1="95.9" x2="337.6" y2="108.3" stroke="#2a2a2a" stroke-width="0.45"/>
<line x1="336.8" y1="108.3" x2="338.4" y2="108.3" stroke="#222" stroke-width="0.55"/>
<line x1="344.1" y1="52.6" x2="344.1" y2="92.6" stroke="#484848" stroke-width="0.48"/>
<line x1="343.2" y1="52.6" x2="345.0" y2="52.6" stroke="#444" stroke-width="0.6"/>
<line x1="343.3" y1="92.6" x2="344.9" y2="92.6" stroke="#333" stroke-width="0.55"/>
<line x1="344.4" y1="72.6" x2="344.4" y2="104.6" stroke="#2a2a2a" stroke-width="0.45"/>
<line x1="343.6" y1="104.6" x2="345.2" y2="104.6" stroke="#222" stroke-width="0.55"/>
<line x1="352.4" y1="71.8" x2="352.4" y2="91.3" stroke="#484848" stroke-width="0.48"/>
<line x1="351.5" y1="71.8" x2="353.3" y2="71.8" stroke="#444" stroke-width="0.6"/>
<line x1="351.6" y1="91.3" x2="353.2" y2="91.3" stroke="#333" stroke-width="0.55"/>
<line x1="352.7" y1="84.2" x2="352.7" y2="99.8" stroke="#2a2a2a" stroke-width="0.45"/>
<line x1="351.9" y1="99.8" x2="353.5" y2="99.8" stroke="#222" stroke-width="0.55"/>
<line x1="355.3" y1="64.6" x2="355.3" y2="122.9" stroke="#484848" stroke-width="0.48"/>
<line x1="354.4" y1="64.6" x2="356.2" y2="64.6" stroke="#444" stroke-width="0.6"/>
<line x1="354.5" y1="122.9" x2="356.1" y2="122.9" stroke="#333" stroke-width="0.55"/>
<line x1="355.6" y1="89.7" x2="355.6" y2="122.9" stroke="#2a2a2a" stroke-width="0.45"/>
<line x1="354.8" y1="122.9" x2="356.4" y2="122.9" stroke="#222" stroke-width="0.55"/>
<line x1="213.3" y1="15.3" x2="213.3" y2="124.9" stroke="#777" stroke-width="0.7"/>
<line x1="213.3" y1="125.2" x2="355.8" y2="125.2" stroke="#bbb" stroke-width="0.5"/>
<line x1="214.5" y1="124.0" x2="214.5" y2="126.5" stroke="#444" stroke-width="0.6"/>
<text x="214.5" y="133.3" class="tk" text-anchor="middle">0</text>
<line x1="227.4" y1="124.0" x2="227.4" y2="125.5" stroke="#444" stroke-width="0.6"/>
<line x1="240.2" y1="124.0" x2="240.2" y2="126.5" stroke="#444" stroke-width="0.6"/>
<text x="240.2" y="133.3" class="tk" text-anchor="middle">20</text>
<line x1="253.1" y1="124.0" x2="253.1" y2="125.5" stroke="#444" stroke-width="0.6"/>
<line x1="265.9" y1="124.0" x2="265.9" y2="126.5" stroke="#444" stroke-width="0.6"/>
<text x="265.9" y="133.3" class="tk" text-anchor="middle">40</text>
<line x1="278.8" y1="124.0" x2="278.8" y2="125.5" stroke="#444" stroke-width="0.6"/>
<line x1="291.7" y1="124.0" x2="291.7" y2="126.5" stroke="#444" stroke-width="0.6"/>
<text x="291.7" y="133.3" class="tk" text-anchor="middle">60</text>
<line x1="304.5" y1="124.0" x2="304.5" y2="125.5" stroke="#444" stroke-width="0.6"/>
<line x1="317.4" y1="124.0" x2="317.4" y2="126.5" stroke="#444" stroke-width="0.6"/>
<text x="317.4" y="133.3" class="tk" text-anchor="middle">80</text>
<line x1="330.2" y1="124.0" x2="330.2" y2="125.5" stroke="#444" stroke-width="0.6"/>
<line x1="343.1" y1="124.0" x2="343.1" y2="126.5" stroke="#444" stroke-width="0.6"/>
<text x="343.1" y="133.3" class="tk" text-anchor="middle">100</text>
<line x1="356.0" y1="124.0" x2="356.0" y2="125.5" stroke="#444" stroke-width="0.6"/>
<line x1="213.3" y1="24.6" x2="211.3" y2="24.6" stroke="#444" stroke-width="0.6"/>
<text x="210.0" y="27.3" class="tk" style="font-size:8px" text-anchor="end">140</text>
<line x1="213.3" y1="44.4" x2="211.3" y2="44.4" stroke="#444" stroke-width="0.6"/>
<text x="210.0" y="47.1" class="tk" style="font-size:8px" text-anchor="end">120</text>
<line x1="213.3" y1="64.2" x2="211.3" y2="64.2" stroke="#444" stroke-width="0.6"/>
<text x="210.0" y="66.9" class="tk" style="font-size:8px" text-anchor="end">100</text>
<line x1="213.3" y1="84.0" x2="211.3" y2="84.0" stroke="#444" stroke-width="0.6"/>
<text x="210.0" y="86.7" class="tk" style="font-size:8px" text-anchor="end">80</text>
<line x1="213.3" y1="103.8" x2="211.3" y2="103.8" stroke="#444" stroke-width="0.6"/>
<text x="210.0" y="106.5" class="tk" style="font-size:8px" text-anchor="end">60</text>
<line x1="213.3" y1="123.6" x2="211.3" y2="123.6" stroke="#444" stroke-width="0.6"/>
<text x="210.0" y="126.3" class="tk" style="font-size:8px" text-anchor="end">40</text>
<line x1="213.3" y1="34.5" x2="212.1" y2="34.5" stroke="#444" stroke-width="0.6"/>
<line x1="213.3" y1="54.3" x2="212.1" y2="54.3" stroke="#444" stroke-width="0.6"/>
<line x1="213.3" y1="74.1" x2="212.1" y2="74.1" stroke="#444" stroke-width="0.6"/>
<line x1="213.3" y1="93.9" x2="212.1" y2="93.9" stroke="#444" stroke-width="0.6"/>
<line x1="213.3" y1="113.7" x2="212.1" y2="113.7" stroke="#444" stroke-width="0.6"/>
<polygon points="214.6,279.0 214.6,242.0 216.7,232.0 219.8,252.0 222.4,205.6 227.0,208.8 230.8,198.8 235.5,200.3 238.7,212.1 245.1,204.6 247.3,206.7 254.7,196.7 258.0,202.4 262.7,201.4 266.1,219.5 271.9,218.0 275.1,194.5 281.1,207.8 284.1,202.4 290.1,214.2 293.3,220.6 301.8,205.2 304.0,207.9 308.7,213.2 317.3,202.5 321.1,206.8 325.4,207.9 329.3,196.7 335.7,213.2 338.3,206.8 344.3,207.9 347.9,219.6 353.7,214.7 356.5,257.1 356.5,279.0" fill="#a8de7c"/>
<polyline points="214.6,242.0 216.7,232.0 219.8,252.0 222.4,205.6 227.0,208.8 230.8,198.8 235.5,200.3 238.7,212.1 245.1,204.6 247.3,206.7 254.7,196.7 258.0,202.4 262.7,201.4 266.1,219.5 271.9,218.0 275.1,194.5 281.1,207.8 284.1,202.4 290.1,214.2 293.3,220.6 301.8,205.2 304.0,207.9 308.7,213.2 317.3,202.5 321.1,206.8 325.4,207.9 329.3,196.7 335.7,213.2 338.3,206.8 344.3,207.9 347.9,219.6 353.7,214.7 356.5,257.1 356.5,278.0" fill="none" stroke="#2a2a2a" stroke-width="0.45" stroke-linejoin="round"/>
<polygon points="215.0,277.9 215.0,262.0 216.5,264.0 218.5,261.0 220.0,263.0 221.6,260.5 227.3,240.5 231.5,240.8 236.4,237.3 240.0,239.4 245.1,232.4 247.9,246.2 254.7,227.0 258.0,229.1 262.7,228.1 266.1,231.3 271.9,230.2 275.1,231.3 281.1,216.3 290.1,229.1 292.6,225.9 299.0,233.8 301.8,231.3 307.2,237.9 310.9,214.3 316.9,240.0 320.7,236.1 326.5,236.1 335.7,249.6 344.3,237.4 347.9,249.6 353.7,249.6 356.5,257.1 356.5,277.9" fill="#2a1ad6"/>
<polyline points="215.0,262.0 216.5,264.0 218.5,261.0 220.0,263.0 221.6,260.5 227.3,240.5 231.5,240.8 236.4,237.3 240.0,239.4 245.1,232.4 247.9,246.2 254.7,227.0 258.0,229.1 262.7,228.1 266.1,231.3 271.9,230.2 275.1,231.3 281.1,216.3 290.1,229.1 292.6,225.9 299.0,233.8 301.8,231.3 307.2,237.9 310.9,214.3 316.9,240.0 320.7,236.1 326.5,236.1 335.7,249.6 344.3,237.4 347.9,249.6 353.7,249.6 356.5,257.1 356.5,278.0" fill="none" stroke="#2a2a2a" stroke-width="0.45" stroke-linejoin="round"/>
<line x1="216.7" y1="208.8" x2="216.7" y2="255.2" stroke="#484848" stroke-width="0.48"/>
<line x1="215.8" y1="208.8" x2="217.6" y2="208.8" stroke="#444" stroke-width="0.6"/>
<line x1="215.9" y1="255.2" x2="217.5" y2="255.2" stroke="#333" stroke-width="0.55"/>
<line x1="217.0" y1="245.1" x2="217.0" y2="277.2" stroke="#2a2a2a" stroke-width="0.45"/>
<line x1="216.2" y1="277.2" x2="217.8" y2="277.2" stroke="#222" stroke-width="0.55"/>
<line x1="221.6" y1="198.2" x2="221.6" y2="241.6" stroke="#484848" stroke-width="0.48"/>
<line x1="220.7" y1="198.2" x2="222.5" y2="198.2" stroke="#444" stroke-width="0.6"/>
<line x1="220.8" y1="241.6" x2="222.4" y2="241.6" stroke="#333" stroke-width="0.55"/>
<line x1="221.9" y1="243.2" x2="221.9" y2="277.2" stroke="#2a2a2a" stroke-width="0.45"/>
<line x1="221.1" y1="277.2" x2="222.7" y2="277.2" stroke="#222" stroke-width="0.55"/>
<line x1="227.0" y1="197.1" x2="227.0" y2="220.5" stroke="#484848" stroke-width="0.48"/>
<line x1="226.1" y1="197.1" x2="227.9" y2="197.1" stroke="#444" stroke-width="0.6"/>
<line x1="226.2" y1="220.5" x2="227.8" y2="220.5" stroke="#333" stroke-width="0.55"/>
<line x1="227.3" y1="232.2" x2="227.3" y2="250.9" stroke="#2a2a2a" stroke-width="0.45"/>
<line x1="226.5" y1="250.9" x2="228.1" y2="250.9" stroke="#222" stroke-width="0.55"/>
<line x1="230.2" y1="186.4" x2="230.2" y2="214.4" stroke="#484848" stroke-width="0.48"/>
<line x1="229.3" y1="186.4" x2="231.1" y2="186.4" stroke="#444" stroke-width="0.6"/>
<line x1="229.4" y1="214.4" x2="231.0" y2="214.4" stroke="#333" stroke-width="0.55"/>
<line x1="230.5" y1="229.5" x2="230.5" y2="251.9" stroke="#2a2a2a" stroke-width="0.45"/>
<line x1="229.7" y1="251.9" x2="231.3" y2="251.9" stroke="#222" stroke-width="0.55"/>
<line x1="235.9" y1="185.3" x2="235.9" y2="218.3" stroke="#484848" stroke-width="0.48"/>
<line x1="235.0" y1="185.3" x2="236.8" y2="185.3" stroke="#444" stroke-width="0.6"/>
<line x1="235.1" y1="218.3" x2="236.7" y2="218.3" stroke="#333" stroke-width="0.55"/>
<line x1="236.2" y1="224.5" x2="236.2" y2="250.8" stroke="#2a2a2a" stroke-width="0.45"/>
<line x1="235.4" y1="250.8" x2="237.0" y2="250.8" stroke="#222" stroke-width="0.55"/>
<line x1="245.1" y1="190.7" x2="245.1" y2="218.5" stroke="#484848" stroke-width="0.48"/>
<line x1="244.2" y1="190.7" x2="246.0" y2="190.7" stroke="#444" stroke-width="0.6"/>
<line x1="244.3" y1="218.5" x2="245.9" y2="218.5" stroke="#333" stroke-width="0.55"/>
<line x1="245.4" y1="221.3" x2="245.4" y2="243.5" stroke="#2a2a2a" stroke-width="0.45"/>
<line x1="244.6" y1="243.5" x2="246.2" y2="243.5" stroke="#222" stroke-width="0.55"/>
<line x1="247.9" y1="196.0" x2="247.9" y2="215.8" stroke="#484848" stroke-width="0.48"/>
<line x1="247.0" y1="196.0" x2="248.8" y2="196.0" stroke="#444" stroke-width="0.6"/>
<line x1="247.1" y1="215.8" x2="248.7" y2="215.8" stroke="#333" stroke-width="0.55"/>
<line x1="248.2" y1="238.3" x2="248.2" y2="254.1" stroke="#2a2a2a" stroke-width="0.45"/>
<line x1="247.4" y1="254.1" x2="249.0" y2="254.1" stroke="#222" stroke-width="0.55"/>
<line x1="254.3" y1="186.0" x2="254.3" y2="208.5" stroke="#484848" stroke-width="0.48"/>
<line x1="253.4" y1="186.0" x2="255.2" y2="186.0" stroke="#444" stroke-width="0.6"/>
<line x1="253.5" y1="208.5" x2="255.1" y2="208.5" stroke="#333" stroke-width="0.55"/>
<line x1="254.6" y1="219.1" x2="254.6" y2="237.1" stroke="#2a2a2a" stroke-width="0.45"/>
<line x1="253.8" y1="237.1" x2="255.4" y2="237.1" stroke="#222" stroke-width="0.55"/>
<line x1="262.7" y1="193.2" x2="262.7" y2="209.6" stroke="#484848" stroke-width="0.48"/>
<line x1="261.8" y1="193.2" x2="263.6" y2="193.2" stroke="#444" stroke-width="0.6"/>
<line x1="261.9" y1="209.6" x2="263.5" y2="209.6" stroke="#333" stroke-width="0.55"/>
<line x1="263.0" y1="221.5" x2="263.0" y2="234.7" stroke="#2a2a2a" stroke-width="0.45"/>
<line x1="262.2" y1="234.7" x2="263.8" y2="234.7" stroke="#222" stroke-width="0.55"/>
<line x1="266.1" y1="204.6" x2="266.1" y2="234.4" stroke="#484848" stroke-width="0.48"/>
<line x1="265.2" y1="204.6" x2="267.0" y2="204.6" stroke="#444" stroke-width="0.6"/>
<line x1="265.3" y1="234.4" x2="266.9" y2="234.4" stroke="#333" stroke-width="0.55"/>
<line x1="266.4" y1="219.4" x2="266.4" y2="243.2" stroke="#2a2a2a" stroke-width="0.45"/>
<line x1="265.6" y1="243.2" x2="267.2" y2="243.2" stroke="#222" stroke-width="0.55"/>
<line x1="275.1" y1="180.0" x2="275.1" y2="209.0" stroke="#484848" stroke-width="0.48"/>
<line x1="274.2" y1="180.0" x2="276.0" y2="180.0" stroke="#444" stroke-width="0.6"/>
<line x1="274.3" y1="209.0" x2="275.9" y2="209.0" stroke="#333" stroke-width="0.55"/>
<line x1="275.4" y1="219.7" x2="275.4" y2="242.9" stroke="#2a2a2a" stroke-width="0.45"/>
<line x1="274.6" y1="242.9" x2="276.2" y2="242.9" stroke="#222" stroke-width="0.55"/>
<line x1="281.1" y1="196.7" x2="281.1" y2="218.9" stroke="#484848" stroke-width="0.48"/>
<line x1="280.2" y1="196.7" x2="282.0" y2="196.7" stroke="#444" stroke-width="0.6"/>
<line x1="280.3" y1="218.9" x2="281.9" y2="218.9" stroke="#333" stroke-width="0.55"/>
<line x1="281.4" y1="207.4" x2="281.4" y2="225.2" stroke="#2a2a2a" stroke-width="0.45"/>
<line x1="280.6" y1="225.2" x2="282.2" y2="225.2" stroke="#222" stroke-width="0.55"/>
<line x1="284.1" y1="190.7" x2="284.1" y2="214.1" stroke="#484848" stroke-width="0.48"/>
<line x1="283.2" y1="190.7" x2="285.0" y2="190.7" stroke="#444" stroke-width="0.6"/>
<line x1="283.3" y1="214.1" x2="284.9" y2="214.1" stroke="#333" stroke-width="0.55"/>
<line x1="284.4" y1="211.2" x2="284.4" y2="229.9" stroke="#2a2a2a" stroke-width="0.45"/>
<line x1="283.6" y1="229.9" x2="285.2" y2="229.9" stroke="#222" stroke-width="0.55"/>
<line x1="290.1" y1="201.4" x2="290.1" y2="227.0" stroke="#484848" stroke-width="0.48"/>
<line x1="289.2" y1="201.4" x2="291.0" y2="201.4" stroke="#444" stroke-width="0.6"/>
<line x1="289.3" y1="227.0" x2="290.9" y2="227.0" stroke="#333" stroke-width="0.55"/>
<line x1="290.4" y1="218.9" x2="290.4" y2="239.3" stroke="#2a2a2a" stroke-width="0.45"/>
<line x1="289.6" y1="239.3" x2="291.2" y2="239.3" stroke="#222" stroke-width="0.55"/>
<line x1="293.3" y1="211.6" x2="293.3" y2="229.6" stroke="#484848" stroke-width="0.48"/>
<line x1="292.4" y1="211.6" x2="294.2" y2="211.6" stroke="#444" stroke-width="0.6"/>
<line x1="292.5" y1="229.6" x2="294.1" y2="229.6" stroke="#333" stroke-width="0.55"/>
<line x1="293.6" y1="219.6" x2="293.6" y2="234.0" stroke="#2a2a2a" stroke-width="0.45"/>
<line x1="292.8" y1="234.0" x2="294.4" y2="234.0" stroke="#222" stroke-width="0.55"/>
<line x1="299.0" y1="193.9" x2="299.0" y2="226.6" stroke="#484848" stroke-width="0.48"/>
<line x1="298.1" y1="193.9" x2="299.9" y2="193.9" stroke="#444" stroke-width="0.6"/>
<line x1="298.2" y1="226.6" x2="299.8" y2="226.6" stroke="#333" stroke-width="0.55"/>
<line x1="299.3" y1="220.7" x2="299.3" y2="246.9" stroke="#2a2a2a" stroke-width="0.45"/>
<line x1="298.5" y1="246.9" x2="300.1" y2="246.9" stroke="#222" stroke-width="0.55"/>
<line x1="301.8" y1="194.5" x2="301.8" y2="215.9" stroke="#484848" stroke-width="0.48"/>
<line x1="300.9" y1="194.5" x2="302.7" y2="194.5" stroke="#444" stroke-width="0.6"/>
<line x1="301.0" y1="215.9" x2="302.6" y2="215.9" stroke="#333" stroke-width="0.55"/>
<line x1="302.1" y1="222.7" x2="302.1" y2="239.9" stroke="#2a2a2a" stroke-width="0.45"/>
<line x1="301.3" y1="239.9" x2="302.9" y2="239.9" stroke="#222" stroke-width="0.55"/>
<line x1="307.6" y1="201.4" x2="307.6" y2="222.5" stroke="#484848" stroke-width="0.48"/>
<line x1="306.7" y1="201.4" x2="308.5" y2="201.4" stroke="#444" stroke-width="0.6"/>
<line x1="306.8" y1="222.5" x2="308.4" y2="222.5" stroke="#333" stroke-width="0.55"/>
<line x1="307.9" y1="226.9" x2="307.9" y2="243.8" stroke="#2a2a2a" stroke-width="0.45"/>
<line x1="307.1" y1="243.8" x2="308.7" y2="243.8" stroke="#222" stroke-width="0.55"/>
<line x1="307.9" y1="201.4" x2="307.9" y2="223.2" stroke="#484848" stroke-width="0.48"/>
<line x1="307.0" y1="201.4" x2="308.8" y2="201.4" stroke="#444" stroke-width="0.6"/>
<line x1="307.1" y1="223.2" x2="308.7" y2="223.2" stroke="#333" stroke-width="0.55"/>
<line x1="308.2" y1="224.7" x2="308.2" y2="242.2" stroke="#2a2a2a" stroke-width="0.45"/>
<line x1="307.4" y1="242.2" x2="309.0" y2="242.2" stroke="#222" stroke-width="0.55"/>
<line x1="310.9" y1="201.4" x2="310.9" y2="219.5" stroke="#484848" stroke-width="0.48"/>
<line x1="310.0" y1="201.4" x2="311.8" y2="201.4" stroke="#444" stroke-width="0.6"/>
<line x1="310.1" y1="219.5" x2="311.7" y2="219.5" stroke="#333" stroke-width="0.55"/>
<line x1="311.2" y1="207.0" x2="311.2" y2="221.6" stroke="#2a2a2a" stroke-width="0.45"/>
<line x1="310.4" y1="221.6" x2="312.0" y2="221.6" stroke="#222" stroke-width="0.55"/>
<line x1="317.3" y1="192.4" x2="317.3" y2="212.6" stroke="#484848" stroke-width="0.48"/>
<line x1="316.4" y1="192.4" x2="318.2" y2="192.4" stroke="#444" stroke-width="0.6"/>
<line x1="316.5" y1="212.6" x2="318.1" y2="212.6" stroke="#333" stroke-width="0.55"/>
<line x1="317.6" y1="231.5" x2="317.6" y2="247.7" stroke="#2a2a2a" stroke-width="0.45"/>
<line x1="316.8" y1="247.7" x2="318.4" y2="247.7" stroke="#222" stroke-width="0.55"/>
<line x1="320.1" y1="198.9" x2="320.1" y2="212.4" stroke="#484848" stroke-width="0.48"/>
<line x1="319.2" y1="198.9" x2="321.0" y2="198.9" stroke="#444" stroke-width="0.6"/>
<line x1="319.3" y1="212.4" x2="320.9" y2="212.4" stroke="#333" stroke-width="0.55"/>
<line x1="320.4" y1="231.3" x2="320.4" y2="242.1" stroke="#2a2a2a" stroke-width="0.45"/>
<line x1="319.6" y1="242.1" x2="321.2" y2="242.1" stroke="#222" stroke-width="0.55"/>
<line x1="326.5" y1="203.1" x2="326.5" y2="206.7" stroke="#484848" stroke-width="0.48"/>
<line x1="325.6" y1="203.1" x2="327.4" y2="203.1" stroke="#444" stroke-width="0.6"/>
<line x1="325.7" y1="206.7" x2="327.3" y2="206.7" stroke="#333" stroke-width="0.55"/>
<line x1="326.8" y1="234.5" x2="326.8" y2="237.7" stroke="#2a2a2a" stroke-width="0.45"/>
<line x1="326.0" y1="237.7" x2="327.6" y2="237.7" stroke="#222" stroke-width="0.55"/>
<line x1="329.3" y1="189.6" x2="329.3" y2="203.8" stroke="#484848" stroke-width="0.48"/>
<line x1="328.4" y1="189.6" x2="330.2" y2="189.6" stroke="#444" stroke-width="0.6"/>
<line x1="328.5" y1="203.8" x2="330.1" y2="203.8" stroke="#333" stroke-width="0.55"/>
<line x1="329.6" y1="234.5" x2="329.6" y2="245.9" stroke="#2a2a2a" stroke-width="0.45"/>
<line x1="328.8" y1="245.9" x2="330.4" y2="245.9" stroke="#222" stroke-width="0.55"/>
<line x1="335.7" y1="204.6" x2="335.7" y2="221.8" stroke="#484848" stroke-width="0.48"/>
<line x1="334.8" y1="204.6" x2="336.6" y2="204.6" stroke="#444" stroke-width="0.6"/>
<line x1="334.9" y1="221.8" x2="336.5" y2="221.8" stroke="#333" stroke-width="0.55"/>
<line x1="336.0" y1="242.7" x2="336.0" y2="256.5" stroke="#2a2a2a" stroke-width="0.45"/>
<line x1="335.2" y1="256.5" x2="336.8" y2="256.5" stroke="#222" stroke-width="0.55"/>
<line x1="337.9" y1="200.4" x2="337.9" y2="215.2" stroke="#484848" stroke-width="0.48"/>
<line x1="337.0" y1="200.4" x2="338.8" y2="200.4" stroke="#444" stroke-width="0.6"/>
<line x1="337.1" y1="215.2" x2="338.7" y2="215.2" stroke="#333" stroke-width="0.55"/>
<line x1="338.2" y1="240.6" x2="338.2" y2="252.4" stroke="#2a2a2a" stroke-width="0.45"/>
<line x1="337.4" y1="252.4" x2="339.0" y2="252.4" stroke="#222" stroke-width="0.55"/>
<line x1="344.3" y1="203.1" x2="344.3" y2="212.7" stroke="#484848" stroke-width="0.48"/>
<line x1="343.4" y1="203.1" x2="345.2" y2="203.1" stroke="#444" stroke-width="0.6"/>
<line x1="343.5" y1="212.7" x2="345.1" y2="212.7" stroke="#333" stroke-width="0.55"/>
<line x1="344.6" y1="233.6" x2="344.6" y2="241.2" stroke="#2a2a2a" stroke-width="0.45"/>
<line x1="343.8" y1="241.2" x2="345.4" y2="241.2" stroke="#222" stroke-width="0.55"/>
<line x1="347.3" y1="208.3" x2="347.3" y2="227.0" stroke="#484848" stroke-width="0.48"/>
<line x1="346.4" y1="208.3" x2="348.2" y2="208.3" stroke="#444" stroke-width="0.6"/>
<line x1="346.5" y1="227.0" x2="348.1" y2="227.0" stroke="#333" stroke-width="0.55"/>
<line x1="347.6" y1="240.1" x2="347.6" y2="255.0" stroke="#2a2a2a" stroke-width="0.45"/>
<line x1="346.8" y1="255.0" x2="348.4" y2="255.0" stroke="#222" stroke-width="0.55"/>
<line x1="353.7" y1="201.4" x2="353.7" y2="228.0" stroke="#484848" stroke-width="0.48"/>
<line x1="352.8" y1="201.4" x2="354.6" y2="201.4" stroke="#444" stroke-width="0.6"/>
<line x1="352.9" y1="228.0" x2="354.5" y2="228.0" stroke="#333" stroke-width="0.55"/>
<line x1="354.0" y1="239.0" x2="354.0" y2="260.2" stroke="#2a2a2a" stroke-width="0.45"/>
<line x1="353.2" y1="260.2" x2="354.8" y2="260.2" stroke="#222" stroke-width="0.55"/>
<line x1="356.5" y1="215.4" x2="356.5" y2="277.2" stroke="#484848" stroke-width="0.48"/>
<line x1="355.6" y1="215.4" x2="357.4" y2="215.4" stroke="#444" stroke-width="0.6"/>
<line x1="355.7" y1="277.2" x2="357.3" y2="277.2" stroke="#333" stroke-width="0.55"/>
<line x1="213.6" y1="179.0" x2="213.6" y2="279.2" stroke="#777" stroke-width="0.7"/>
<line x1="213.6" y1="279.5" x2="355.9" y2="279.5" stroke="#bbb" stroke-width="0.5"/>
<line x1="214.7" y1="278.3" x2="214.7" y2="280.8" stroke="#444" stroke-width="0.6"/>
<text x="214.7" y="289.0" class="tk" text-anchor="middle">0</text>
<line x1="227.7" y1="278.3" x2="227.7" y2="279.8" stroke="#444" stroke-width="0.6"/>
<line x1="240.6" y1="278.3" x2="240.6" y2="280.8" stroke="#444" stroke-width="0.6"/>
<text x="240.6" y="289.0" class="tk" text-anchor="middle">20</text>
<line x1="253.6" y1="278.3" x2="253.6" y2="279.8" stroke="#444" stroke-width="0.6"/>
<line x1="266.6" y1="278.3" x2="266.6" y2="280.8" stroke="#444" stroke-width="0.6"/>
<text x="266.6" y="289.0" class="tk" text-anchor="middle">40</text>
<line x1="279.5" y1="278.3" x2="279.5" y2="279.8" stroke="#444" stroke-width="0.6"/>
<line x1="292.5" y1="278.3" x2="292.5" y2="280.8" stroke="#444" stroke-width="0.6"/>
<text x="292.5" y="289.0" class="tk" text-anchor="middle">60</text>
<line x1="305.5" y1="278.3" x2="305.5" y2="279.8" stroke="#444" stroke-width="0.6"/>
<line x1="318.5" y1="278.3" x2="318.5" y2="280.8" stroke="#444" stroke-width="0.6"/>
<text x="318.5" y="289.0" class="tk" text-anchor="middle">80</text>
<line x1="331.4" y1="278.3" x2="331.4" y2="279.8" stroke="#444" stroke-width="0.6"/>
<line x1="344.4" y1="278.3" x2="344.4" y2="280.8" stroke="#444" stroke-width="0.6"/>
<text x="344.4" y="289.0" class="tk" text-anchor="middle">100</text>
<line x1="213.6" y1="179.6" x2="211.6" y2="179.6" stroke="#444" stroke-width="0.6"/>
<text x="210.8" y="182.2" class="tk" style="font-size:8.4px" text-anchor="end">30</text>
<line x1="213.6" y1="207.8" x2="211.6" y2="207.8" stroke="#444" stroke-width="0.6"/>
<text x="210.8" y="210.4" class="tk" style="font-size:8.4px" text-anchor="end">25</text>
<line x1="213.6" y1="236.0" x2="211.6" y2="236.0" stroke="#444" stroke-width="0.6"/>
<text x="210.8" y="238.6" class="tk" style="font-size:8.4px" text-anchor="end">20</text>
<line x1="213.6" y1="264.2" x2="211.6" y2="264.2" stroke="#444" stroke-width="0.6"/>
<text x="210.8" y="266.8" class="tk" style="font-size:8.4px" text-anchor="end">15</text>
<line x1="213.6" y1="193.7" x2="212.4" y2="193.7" stroke="#444" stroke-width="0.6"/>
<line x1="213.6" y1="221.9" x2="212.4" y2="221.9" stroke="#444" stroke-width="0.6"/>
<line x1="213.6" y1="250.1" x2="212.4" y2="250.1" stroke="#444" stroke-width="0.6"/>

<g fill="none" stroke="#8f8f8f" stroke-width="0.85">
<polyline points="30.5,173 172,173 172,177.5"/>
<polyline points="32.4,349 32.4,345.4 49.5,345.4"/>
<polyline points="39.1,345.4 39.1,341.3 108.5,341.3 108.5,365.5"/>
<polyline points="50.6,365.4 173.4,365.4"/>
<polyline points="215.3,11.1 215.3,8.1 356.9,8.1 356.9,10.8"/>
<polyline points="222.7,17.7 222.7,14 294.4,14 294.4,18.5"/>
<polyline points="215.2,18.4 231,18.4"/>
<polyline points="234,18.5 357.8,18.5"/>
<polyline points="216.5,172.7 216.5,165.1 359.6,165.1 359.6,173"/>
<polyline points="223.3,182.7 223.3,171.4 296.2,171.4 296.2,178.6"/>
<polyline points="236.6,178.6 358,178.6"/>
<polyline points="216.2,183.6 231,183.6"/>
</g>
<g class="sym">
<text x="102.5" y="169.6" text-anchor="middle" class="gr" style="fill:#333;font-size:8.5px">ξ</text>
<text x="76" y="339.4" text-anchor="middle" class="at" style="font-size:8.6px">@</text>
<text x="283" y="7.2" text-anchor="middle" class="gr">ξ</text>
<text x="300.8" y="16.6" text-anchor="middle" class="gr">δ</text>
<text x="219.3" y="16.6" text-anchor="middle" class="st">*</text>
<text x="285.6" y="164.2" text-anchor="middle" class="gr">ξ</text>
<text x="259.9" y="171.4" text-anchor="middle" class="at">@</text>
<text x="303.5" y="179.0" text-anchor="middle" class="gr">δ</text>
<text x="219.3" y="184.2" text-anchor="middle" class="st">*</text>
</g>


<text transform="translate(0.6,15.9) scale(0.92,1)" class="pl" style="font-size:12.3px">A</text>
<text transform="translate(0.7,154.4) scale(0.86,1.04)" class="pl" style="font-size:12.3px">B</text>
<text transform="translate(1.0,333.9) scale(0.8,1.12)" class="pl" style="font-size:12.5px">C</text>
<text transform="translate(180.2,14.9) scale(0.92,1)" class="pl">D</text>
<text transform="translate(191.7,163.6) scale(0.7,1.04)" class="pl" style="font-size:12.6px">E</text>
<text x="100.2" y="147.7" class="dp" text-anchor="middle">Days Post Implant</text>
<text x="101.4" y="304.1" class="dp" text-anchor="middle">Days Post Implant</text>
<text x="102.3" y="462.9" class="dp" text-anchor="middle">Days Post Implant</text>
<text x="284.9" y="146.1" class="dp" style="font-size:9.2px" text-anchor="middle">Days Post implant</text>
<text x="285.6" y="302.8" class="dp" style="font-size:8.9px" text-anchor="middle">Days Post Implant</text>
<text transform="translate(10.3,65.7) rotate(-90)" class="yl" style="font-size:10.1px" text-anchor="middle">Units per Channel</text>
<text transform="translate(11.7,229.8) rotate(-90)" class="yl" text-anchor="middle">% Chanels Detecting Single Units</text>
<text transform="translate(12.8,383.1) rotate(-90)" class="yl" style="font-size:9.6px" text-anchor="middle">SNR</text>
<text transform="translate(194,69.5) rotate(-90)" class="yl" style="font-size:9px" text-anchor="middle">Single Unit Amplitude (µV)</text>
<text transform="translate(194.6,229.8) rotate(-90)" class="yl" style="font-size:10.4px" text-anchor="middle">Noise (µV)</text>
<text transform="translate(226.5,394.2) scale(1,1.18)" class="lg">IAXO-101</text>
<rect x="276.4" y="383.3" width="11.2" height="11.2" fill="#a8e072" stroke="#4a5a3a" stroke-width="0.8"/>
<text transform="translate(301.8,394.2) scale(1,1.18)" class="lg">WT</text>
<rect x="322.9" y="383.3" width="11" height="11.2" fill="#2418ee" stroke="#1a1a50" stroke-width="0.8"/>

</svg>
</body></html>
